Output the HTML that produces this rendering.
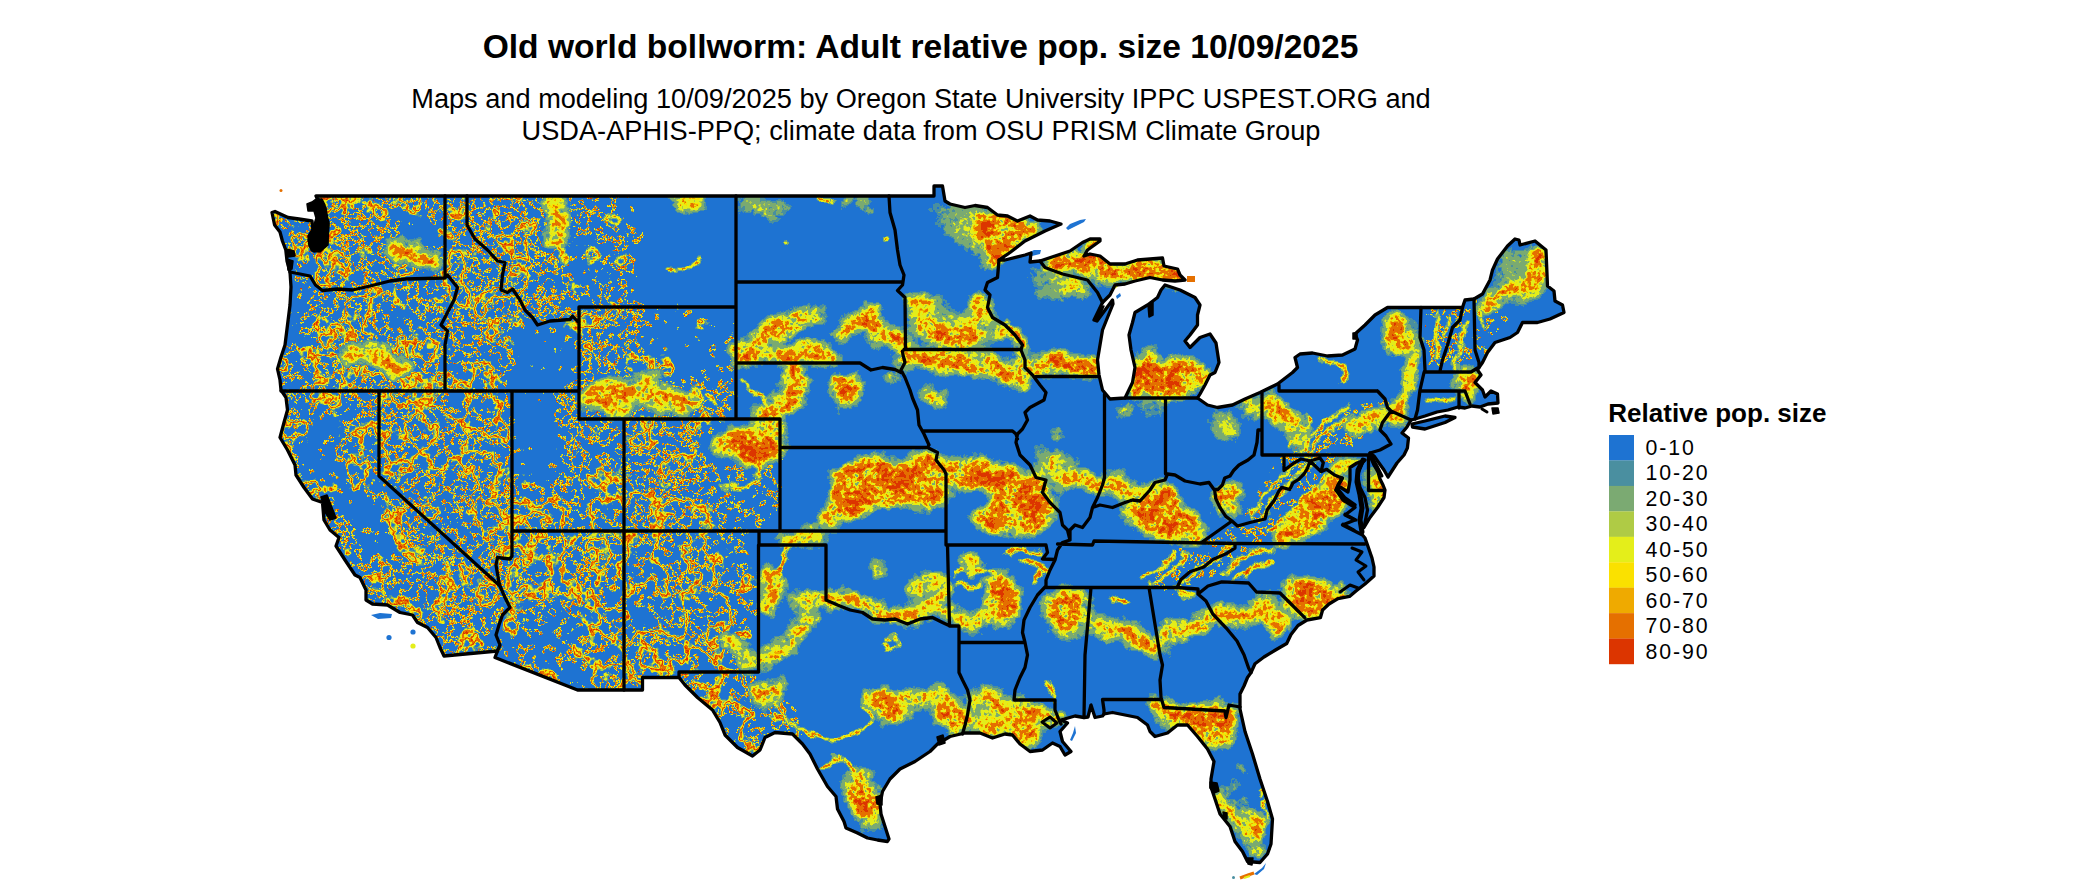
<!DOCTYPE html>
<html><head><meta charset="utf-8"><title>Old world bollworm</title>
<style>
html,body{margin:0;padding:0;background:#fff;}
body{width:2100px;height:892px;overflow:hidden;position:relative;font-family:"Liberation Sans",sans-serif;}
svg{position:absolute;left:0;top:0;}
text{font-family:"Liberation Sans",sans-serif;fill:#000;}
.t1{font-size:33.6px;font-weight:bold;text-anchor:middle;}
.t2{font-size:27.18px;text-anchor:middle;}
.lt{font-size:26px;font-weight:bold;}
.ll{font-size:21.3px;letter-spacing:1.9px;}
</style></head><body>
<svg width="2100" height="892" viewBox="0 0 2100 892">
<defs>
<clipPath id="us"><path d="M316 196 L934 196 L934 186 L942.5 186 L945 201 L950 204 L965 207.5 L975 205.5 L987.5 207.5 L997.5 215 L1007.5 216 L1017.5 221 L1030 216 L1037.5 220 L1050 221 L1061 224 L1045 231 L1025 241 L1010 252.5 L999 260 L1005 260 L1025 255 L1031 253 L1030 262 L1040 261 L1055 256 L1070 251 L1082.5 242.5 L1090 239 L1100 239 L1100 241 L1087.5 250 L1084 256 L1090 254 L1100 256 L1110 264 L1125 264 L1137.5 260 L1162.5 258 L1164 266 L1177.5 269 L1180 275 L1185 280 L1175 281 L1162.5 280 L1150 277.5 L1135 281 L1125 284 L1115 285 L1110 295 L1102.5 302.5 L1094 320 L1097 321 L1112.5 300 L1113 304 L1107.5 317.5 L1102.5 330 L1100 345 L1097.5 360 L1099 375 L1102.5 390 L1110 399 L1125 398 L1132.5 382.5 L1135 367.5 L1131 350 L1129 335 L1132.5 322.5 L1135 312.5 L1147.5 305 L1157.5 297.5 L1161 290 L1165 285 L1180 290 L1195 297.5 L1200 305 L1197.5 315 L1197.5 325 L1190 335 L1185 341 L1190 347.5 L1200 337.5 L1210 334 L1216 343 L1219 362.5 L1215 372.5 L1210 375 L1205 385 L1200 394 L1197.5 398 L1207.5 405 L1217.5 407.5 L1232.5 405 L1245 399 L1260 392.5 L1277.5 384 L1292.5 372.5 L1297.5 367.5 L1295 357.5 L1300 354 L1312.5 353 L1327.5 356 L1342.5 355 L1355 349 L1357.5 340 L1355 334 L1365 325 L1375 315 L1387.5 307.5 L1462.5 307.5 L1465 300 L1474 299 L1482.5 294 L1490 280 L1492.5 270 L1497.5 259 L1507.5 246 L1515 239 L1519 240 L1520 245 L1535 241 L1546 250 L1547.5 286 L1554 291 L1555 301 L1562.5 305 L1564 312.5 L1550 319 L1537.5 322.5 L1522.5 322.5 L1517.5 332.5 L1510 337.5 L1495 342.5 L1487.5 352.5 L1482.5 362.5 L1479 367.5 L1477.5 370 L1481 375 L1475 382.5 L1482.5 390 L1485 397 L1491 391 L1497.5 394 L1498 403 L1488 404 L1480 407 L1472 406 L1465 408 L1458 407 L1448 410 L1437 412 L1425 416 L1415 419 L1411 420 L1407 427 L1402 433 L1408.5 438 L1407.4 448 L1404 455 L1397 463 L1388 477 L1384 470 L1379 463 L1374 456 L1370 453 L1371 458 L1374 465 L1378 472 L1380 479 L1383 485 L1385 490 L1384 497.5 L1377.5 507.5 L1370 517.5 L1364 527.5 L1367.5 510 L1365 497.5 L1360 487.5 L1357.5 475 L1362.5 462.5 L1365 460 L1357 463 L1350 467.5 L1350 480 L1348 492 L1340 487 L1336 490 L1343 500 L1355 507.5 L1345 515 L1355 520 L1342.5 525 L1352.5 530 L1362.5 535 L1365 538 L1367.5 545 L1372 558 L1374 567 L1374 576 L1365 584 L1356 591 L1349.5 596.4 L1338 598.6 L1329 604 L1322.6 610 L1320.4 617.7 L1307 620 L1298 625.5 L1291 634.5 L1286.7 643.5 L1275.5 650 L1264 657 L1255 663.7 L1251 672.6 L1247.5 677.5 L1244 686 L1240 694 L1240 705 L1240 709 L1245 731.5 L1252.5 754 L1260 779 L1267.5 801.5 L1272.5 819 L1271 844 L1267.5 854 L1260 862.5 L1247.5 861.5 L1242.5 851.5 L1235 841.5 L1230 826.5 L1220 814 L1215 799 L1211 787 L1211 779 L1214 761.5 L1207.5 749 L1197.5 736.5 L1187.5 725 L1177.5 725 L1167.5 733 L1155 736.5 L1150 731.5 L1147.5 725 L1137.5 717.5 L1125 715 L1112.5 712.5 L1104 714 L1102.5 716 L1095 717.5 L1091 705 L1088 717 L1084 717.5 L1075 716 L1061 720 L1067.5 723 L1060 731.5 L1062.5 741.5 L1071 751.5 L1065 755 L1060 746.5 L1052.5 743 L1042.5 750 L1030 751.5 L1020 744 L1012.5 735 L1005 734 L992.5 738 L980 733 L965 733 L950 736.5 L937.5 744 L930 751.5 L915 761.5 L900 769 L890 779 L882.5 791.5 L880 804 L881 814 L885 826.5 L889 839 L887.5 841.5 L877.5 840 L867.5 838 L857.5 833 L846 828 L844 821.5 L837.5 809 L836 796.5 L827.5 786.5 L817.5 769 L810 754 L802.5 744 L792.5 734 L775 732.5 L765 737.5 L760 750 L752.5 756 L737.5 747.5 L725 735 L720 722.5 L712.5 710 L697.5 697.5 L685 685 L679 677.5 L642.5 677.5 L642.5 690 L577.5 690 L495 657.5 L497.5 651 L444 656 L440 647.5 L436 637.5 L427.5 627.5 L417.5 622.5 L412.5 615 L400 612.5 L387.5 605 L372.5 604 L366 600 L366 590 L360 577.5 L355 575 L345 560 L336 546 L339 537.5 L330 530 L324 520 L322.5 502.5 L312.5 499 L304 487.5 L296 475 L295 465 L287.5 450 L280 437.5 L284 422.5 L287.5 410 L286 397.5 L281 390 L280 380 L277.5 369 L281 357 L285 345 L287.5 325 L290 305 L291 287 L290 272 L287 261 L285.8 250 L282.4 241 L280 232 L274.6 225 L272 212.5 L275 211.5 L288 217.5 L299 219 L312 221 L313 230 L309 240 L312 250 L320 251 L327 242 L328 225 L325 208 L318 200 L316 196Z M1412 424 L1425 421 L1445 416 L1455 417.5 L1445 422.5 L1425 429 L1412.5 427Z"/></clipPath>

<clipPath id="wclip"><path d="M250 170 L650 170 L650 295 L745 300 L745 415 L790 415 L790 540 L765 540 L765 670 L800 700 L815 745 L760 785 L250 785Z M1425 305 L1500 290 L1510 320 L1480 370 L1425 372Z M1140 592 L1175 548 L1240 520 L1290 440 L1380 395 L1400 412 L1330 470 L1290 520 L1240 562 L1180 596Z"/></clipPath>
<filter id="fw" x="250" y="170" width="1350" height="722" filterUnits="userSpaceOnUse" color-interpolation-filters="sRGB">
<feTurbulence type="fractalNoise" baseFrequency="0.11" numOctaves="5" seed="7" result="n"/>
<feColorMatrix type="matrix" values="1 0 0 0 0 1 0 0 0 0 1 0 0 0 0 0 0 0 0 1" in="n" result="n1"/>
<feTurbulence type="fractalNoise" baseFrequency="0.02" numOctaves="2" seed="21" result="m"/>
<feColorMatrix type="matrix" values="1 0 0 0 0 1 0 0 0 0 1 0 0 0 0 0 0 0 0 1" in="m" result="m1"/>
<feComposite in="n1" in2="m1" operator="arithmetic" k1="0" k2="1.3" k3="0.45" k4="-0.375" result="nn"/>
<feGaussianBlur in="SourceGraphic" stdDeviation="6" result="bl"/>
<feComposite in="bl" in2="nn" operator="arithmetic" k1="0" k2="1" k3="1" k4="-0.5" result="v"/>
<feColorMatrix in="v" type="matrix" values="1 0 0 0 0 1 0 0 0 0 1 0 0 0 0 1 0 0 0 0" result="va"/>
<feComponentTransfer in="va"><feFuncR type="discrete" tableValues="0.118 0.118 0.118 0.118 0.118 0.118 0.118 0.118 0.118 0.118 0.118 0.118 0.118 0.118 0.118 0.118 0.118 0.118 0.118 0.118 0.118 0.118 0.118 0.118 0.118 0.118 0.118 0.118 0.118 0.118 0.118 0.118 0.118 0.118 0.118 0.118 0.118 0.118 0.118 0.118 0.118 0.118 0.118 0.118 0.118 0.118 0.118 0.118 0.118 0.118 0.118 0.118 0.118 0.118 0.118 0.118 0.118 0.118 0.118 0.118 0.118 0.118 0.118 0.118 0.118 0.118 0.118 0.118 0.118 0.118 0.118 0.118 0.118 0.118 0.118 0.118 0.118 0.118 0.118 0.118 0.118 0.118 0.118 0.118 0.29 0.482 0.482 0.686 0.894 0.894 0.894 0.894 0.98 0.937 0.937 0.898 0.898 0.898 0.898 0.863 0.863 0.898 0.898 0.898 0.898 0.937 0.937 0.98 0.894 0.894 0.894 0.894 0.686 0.482 0.482 0.29 0.118 0.118 0.118 0.118 0.118 0.118 0.118 0.118 0.118 0.118 0.118 0.118 0.118 0.118 0.118 0.118 0.118 0.118 0.118 0.118 0.118 0.118 0.118 0.118 0.118 0.118 0.118 0.118 0.118 0.118 0.118 0.118 0.118 0.118 0.118 0.118 0.118 0.118 0.118 0.118 0.118 0.118 0.118 0.118 0.118 0.118 0.118 0.118 0.118 0.118 0.118 0.118 0.118 0.118 0.118 0.118 0.118 0.118 0.118 0.118 0.118 0.118 0.118 0.118 0.118 0.118 0.118 0.118 0.118 0.118 0.118 0.118 0.118 0.118 0.118 0.118 0.118 0.118 0.118 0.118 0.118 0.118 0.118 0.118"/><feFuncG type="discrete" tableValues="0.451 0.451 0.451 0.451 0.451 0.451 0.451 0.451 0.451 0.451 0.451 0.451 0.451 0.451 0.451 0.451 0.451 0.451 0.451 0.451 0.451 0.451 0.451 0.451 0.451 0.451 0.451 0.451 0.451 0.451 0.451 0.451 0.451 0.451 0.451 0.451 0.451 0.451 0.451 0.451 0.451 0.451 0.451 0.451 0.451 0.451 0.451 0.451 0.451 0.451 0.451 0.451 0.451 0.451 0.451 0.451 0.451 0.451 0.451 0.451 0.451 0.451 0.451 0.451 0.451 0.451 0.451 0.451 0.451 0.451 0.451 0.451 0.451 0.451 0.451 0.451 0.451 0.451 0.451 0.451 0.451 0.451 0.451 0.451 0.561 0.667 0.667 0.796 0.933 0.933 0.933 0.933 0.882 0.667 0.667 0.439 0.439 0.439 0.439 0.208 0.208 0.439 0.439 0.439 0.439 0.667 0.667 0.882 0.933 0.933 0.933 0.933 0.796 0.667 0.667 0.561 0.451 0.451 0.451 0.451 0.451 0.451 0.451 0.451 0.451 0.451 0.451 0.451 0.451 0.451 0.451 0.451 0.451 0.451 0.451 0.451 0.451 0.451 0.451 0.451 0.451 0.451 0.451 0.451 0.451 0.451 0.451 0.451 0.451 0.451 0.451 0.451 0.451 0.451 0.451 0.451 0.451 0.451 0.451 0.451 0.451 0.451 0.451 0.451 0.451 0.451 0.451 0.451 0.451 0.451 0.451 0.451 0.451 0.451 0.451 0.451 0.451 0.451 0.451 0.451 0.451 0.451 0.451 0.451 0.451 0.451 0.451 0.451 0.451 0.451 0.451 0.451 0.451 0.451 0.451 0.451 0.451 0.451 0.451 0.451"/><feFuncB type="discrete" tableValues="0.824 0.824 0.824 0.824 0.824 0.824 0.824 0.824 0.824 0.824 0.824 0.824 0.824 0.824 0.824 0.824 0.824 0.824 0.824 0.824 0.824 0.824 0.824 0.824 0.824 0.824 0.824 0.824 0.824 0.824 0.824 0.824 0.824 0.824 0.824 0.824 0.824 0.824 0.824 0.824 0.824 0.824 0.824 0.824 0.824 0.824 0.824 0.824 0.824 0.824 0.824 0.824 0.824 0.824 0.824 0.824 0.824 0.824 0.824 0.824 0.824 0.824 0.824 0.824 0.824 0.824 0.824 0.824 0.824 0.824 0.824 0.824 0.824 0.824 0.824 0.824 0.824 0.824 0.824 0.824 0.824 0.824 0.824 0.824 0.627 0.447 0.447 0.271 0.102 0.102 0.102 0.102 0 0 0 0 0 0 0 0 0 0 0 0 0 0 0 0 0.102 0.102 0.102 0.102 0.271 0.447 0.447 0.627 0.824 0.824 0.824 0.824 0.824 0.824 0.824 0.824 0.824 0.824 0.824 0.824 0.824 0.824 0.824 0.824 0.824 0.824 0.824 0.824 0.824 0.824 0.824 0.824 0.824 0.824 0.824 0.824 0.824 0.824 0.824 0.824 0.824 0.824 0.824 0.824 0.824 0.824 0.824 0.824 0.824 0.824 0.824 0.824 0.824 0.824 0.824 0.824 0.824 0.824 0.824 0.824 0.824 0.824 0.824 0.824 0.824 0.824 0.824 0.824 0.824 0.824 0.824 0.824 0.824 0.824 0.824 0.824 0.824 0.824 0.824 0.824 0.824 0.824 0.824 0.824 0.824 0.824 0.824 0.824 0.824 0.824 0.824 0.824"/><feFuncA type="discrete" tableValues="0 0 0 0 0 0 0 0 0 0 0 0 0 0 0 0 0 0 0 0 0 0 0 0 0 0 0 0 0 0 0 0 0 0 0 0 0 0 0 0 0 0 0 0 0 0 0 0 0 0 0 0 0 0 0 0 0 0 0 0 0 0 0 0 0 0 0 0 0 0 0 0 0 0 0 0 0 0 0 0 0 0 0 0 1 1 1 1 1 1 1 1 1 1 1 1 1 1 1 1 1 1 1 1 1 1 1 1 1 1 1 1 1 1 1 1 0 0 0 0 0 0 0 0 0 0 0 0 0 0 0 0 0 0 0 0 0 0 0 0 0 0 0 0 0 0 0 0 0 0 0 0 0 0 0 0 0 0 0 0 0 0 0 0 0 0 0 0 0 0 0 0 0 0 0 0 0 0 0 0 0 0 0 0 0 0 0 0 0 0 0 0 0 0 0 0 0 0 0 0"/></feComponentTransfer>
</filter>
<filter id="fw2" x="250" y="170" width="1350" height="722" filterUnits="userSpaceOnUse" color-interpolation-filters="sRGB">
<feTurbulence type="fractalNoise" baseFrequency="0.032" numOctaves="4" seed="33" result="n"/>
<feColorMatrix type="matrix" values="1 0 0 0 0 1 0 0 0 0 1 0 0 0 0 0 0 0 0 1" in="n" result="n1"/>
<feGaussianBlur in="SourceGraphic" stdDeviation="6" result="bl"/>
<feComposite in="bl" in2="n1" operator="arithmetic" k1="0" k2="1" k3="1.2" k4="-0.600" result="v"/>
<feColorMatrix in="v" type="matrix" values="1 0 0 0 0 1 0 0 0 0 1 0 0 0 0 1 0 0 0 0" result="va"/>
<feComponentTransfer in="va"><feFuncR type="discrete" tableValues="0.118 0.118 0.118 0.118 0.118 0.118 0.118 0.118 0.118 0.118 0.118 0.118 0.118 0.118 0.118 0.118 0.118 0.118 0.118 0.118 0.118 0.118 0.118 0.118 0.118 0.118 0.118 0.118 0.118 0.118 0.118 0.118 0.118 0.118 0.118 0.118 0.118 0.118 0.118 0.118 0.118 0.118 0.118 0.118 0.118 0.118 0.118 0.118 0.118 0.118 0.118 0.118 0.118 0.118 0.118 0.118 0.118 0.118 0.118 0.118 0.118 0.118 0.118 0.118 0.118 0.118 0.118 0.118 0.118 0.118 0.118 0.118 0.118 0.118 0.118 0.118 0.118 0.118 0.118 0.118 0.118 0.118 0.118 0.118 0.118 0.118 0.29 0.29 0.482 0.482 0.686 0.894 0.894 0.894 0.98 0.937 0.898 0.898 0.898 0.863 0.863 0.898 0.898 0.898 0.937 0.98 0.894 0.894 0.894 0.686 0.482 0.482 0.29 0.29 0.118 0.118 0.118 0.118 0.118 0.118 0.118 0.118 0.118 0.118 0.118 0.118 0.118 0.118 0.118 0.118 0.118 0.118 0.118 0.118 0.118 0.118 0.118 0.118 0.118 0.118 0.118 0.118 0.118 0.118 0.118 0.118 0.118 0.118 0.118 0.118 0.118 0.118 0.118 0.118 0.118 0.118 0.118 0.118 0.118 0.118 0.118 0.118 0.118 0.118 0.118 0.118 0.118 0.118 0.118 0.118 0.118 0.118 0.118 0.118 0.118 0.118 0.118 0.118 0.118 0.118 0.118 0.118 0.118 0.118 0.118 0.118 0.118 0.118 0.118 0.118 0.118 0.118 0.118 0.118 0.118 0.118 0.118 0.118 0.118 0.118"/><feFuncG type="discrete" tableValues="0.451 0.451 0.451 0.451 0.451 0.451 0.451 0.451 0.451 0.451 0.451 0.451 0.451 0.451 0.451 0.451 0.451 0.451 0.451 0.451 0.451 0.451 0.451 0.451 0.451 0.451 0.451 0.451 0.451 0.451 0.451 0.451 0.451 0.451 0.451 0.451 0.451 0.451 0.451 0.451 0.451 0.451 0.451 0.451 0.451 0.451 0.451 0.451 0.451 0.451 0.451 0.451 0.451 0.451 0.451 0.451 0.451 0.451 0.451 0.451 0.451 0.451 0.451 0.451 0.451 0.451 0.451 0.451 0.451 0.451 0.451 0.451 0.451 0.451 0.451 0.451 0.451 0.451 0.451 0.451 0.451 0.451 0.451 0.451 0.451 0.451 0.561 0.561 0.667 0.667 0.796 0.933 0.933 0.933 0.882 0.667 0.439 0.439 0.439 0.208 0.208 0.439 0.439 0.439 0.667 0.882 0.933 0.933 0.933 0.796 0.667 0.667 0.561 0.561 0.451 0.451 0.451 0.451 0.451 0.451 0.451 0.451 0.451 0.451 0.451 0.451 0.451 0.451 0.451 0.451 0.451 0.451 0.451 0.451 0.451 0.451 0.451 0.451 0.451 0.451 0.451 0.451 0.451 0.451 0.451 0.451 0.451 0.451 0.451 0.451 0.451 0.451 0.451 0.451 0.451 0.451 0.451 0.451 0.451 0.451 0.451 0.451 0.451 0.451 0.451 0.451 0.451 0.451 0.451 0.451 0.451 0.451 0.451 0.451 0.451 0.451 0.451 0.451 0.451 0.451 0.451 0.451 0.451 0.451 0.451 0.451 0.451 0.451 0.451 0.451 0.451 0.451 0.451 0.451 0.451 0.451 0.451 0.451 0.451 0.451"/><feFuncB type="discrete" tableValues="0.824 0.824 0.824 0.824 0.824 0.824 0.824 0.824 0.824 0.824 0.824 0.824 0.824 0.824 0.824 0.824 0.824 0.824 0.824 0.824 0.824 0.824 0.824 0.824 0.824 0.824 0.824 0.824 0.824 0.824 0.824 0.824 0.824 0.824 0.824 0.824 0.824 0.824 0.824 0.824 0.824 0.824 0.824 0.824 0.824 0.824 0.824 0.824 0.824 0.824 0.824 0.824 0.824 0.824 0.824 0.824 0.824 0.824 0.824 0.824 0.824 0.824 0.824 0.824 0.824 0.824 0.824 0.824 0.824 0.824 0.824 0.824 0.824 0.824 0.824 0.824 0.824 0.824 0.824 0.824 0.824 0.824 0.824 0.824 0.824 0.824 0.627 0.627 0.447 0.447 0.271 0.102 0.102 0.102 0 0 0 0 0 0 0 0 0 0 0 0 0.102 0.102 0.102 0.271 0.447 0.447 0.627 0.627 0.824 0.824 0.824 0.824 0.824 0.824 0.824 0.824 0.824 0.824 0.824 0.824 0.824 0.824 0.824 0.824 0.824 0.824 0.824 0.824 0.824 0.824 0.824 0.824 0.824 0.824 0.824 0.824 0.824 0.824 0.824 0.824 0.824 0.824 0.824 0.824 0.824 0.824 0.824 0.824 0.824 0.824 0.824 0.824 0.824 0.824 0.824 0.824 0.824 0.824 0.824 0.824 0.824 0.824 0.824 0.824 0.824 0.824 0.824 0.824 0.824 0.824 0.824 0.824 0.824 0.824 0.824 0.824 0.824 0.824 0.824 0.824 0.824 0.824 0.824 0.824 0.824 0.824 0.824 0.824 0.824 0.824 0.824 0.824 0.824 0.824"/><feFuncA type="discrete" tableValues="0 0 0 0 0 0 0 0 0 0 0 0 0 0 0 0 0 0 0 0 0 0 0 0 0 0 0 0 0 0 0 0 0 0 0 0 0 0 0 0 0 0 0 0 0 0 0 0 0 0 0 0 0 0 0 0 0 0 0 0 0 0 0 0 0 0 0 0 0 0 0 0 0 0 0 0 0 0 0 0 0 0 0 0 0 0 1 1 1 1 1 1 1 1 1 1 1 1 1 1 1 1 1 1 1 1 1 1 1 1 1 1 1 1 0 0 0 0 0 0 0 0 0 0 0 0 0 0 0 0 0 0 0 0 0 0 0 0 0 0 0 0 0 0 0 0 0 0 0 0 0 0 0 0 0 0 0 0 0 0 0 0 0 0 0 0 0 0 0 0 0 0 0 0 0 0 0 0 0 0 0 0 0 0 0 0 0 0 0 0 0 0 0 0 0 0 0 0 0 0"/></feComponentTransfer>
</filter>
<filter id="bh" x="250" y="170" width="1350" height="722" filterUnits="userSpaceOnUse" color-interpolation-filters="sRGB"><feGaussianBlur stdDeviation="5.5"/></filter>
<filter id="bc" x="250" y="170" width="1350" height="722" filterUnits="userSpaceOnUse" color-interpolation-filters="sRGB"><feGaussianBlur stdDeviation="3.5"/></filter>
<filter id="bt" x="250" y="170" width="1350" height="722" filterUnits="userSpaceOnUse" color-interpolation-filters="sRGB"><feGaussianBlur stdDeviation="1.3"/></filter>
<filter id="fe" x="250" y="170" width="1350" height="722" filterUnits="userSpaceOnUse" color-interpolation-filters="sRGB">
<feTurbulence type="fractalNoise" baseFrequency="0.045" numOctaves="3" seed="11" result="n"/>
<feColorMatrix type="matrix" values="1 0 0 0 0 0 1 0 0 0 0 0 1 0 0 0 0 0 0 1" in="n" result="n1"/>
<feDisplacementMap in="SourceGraphic" in2="n1" scale="18" xChannelSelector="R" yChannelSelector="G" result="d"/>
<feTurbulence type="fractalNoise" baseFrequency="0.22" numOctaves="2" seed="5" result="m"/>
<feColorMatrix type="matrix" values="1 0 0 0 0 1 0 0 0 0 1 0 0 0 0 0 0 0 0 1" in="m" result="m1"/>
<feColorMatrix type="matrix" values="0 0 1 0 0 0 0 1 0 0 0 0 1 0 0 0 0 0 0 1" in="n1" result="n2"/>
<feComposite in="n2" in2="m1" operator="arithmetic" k1="0" k2="1.1" k3="1.4" k4="-0.750" result="nn"/>
<feComposite in="d" in2="nn" operator="arithmetic" k1="1.3" k2="0.35" k3="0" k4="0" result="v"/>
<feColorMatrix in="v" type="matrix" values="1 0 0 0 0 1 0 0 0 0 1 0 0 0 0 1 0 0 0 0" result="va"/>
<feComponentTransfer in="va"><feFuncR type="discrete" tableValues="0.118 0.118 0.118 0.118 0.118 0.118 0.118 0.118 0.29 0.29 0.29 0.29 0.29 0.29 0.482 0.482 0.482 0.482 0.482 0.482 0.482 0.482 0.482 0.482 0.482 0.482 0.482 0.482 0.482 0.482 0.686 0.686 0.686 0.686 0.894 0.894 0.894 0.894 0.894 0.894 0.894 0.894 0.894 0.894 0.894 0.894 0.894 0.894 0.894 0.894 0.894 0.894 0.98 0.98 0.98 0.98 0.98 0.98 0.937 0.937 0.937 0.937 0.937 0.937 0.898 0.898 0.898 0.898 0.898 0.898 0.898 0.898 0.898 0.898 0.898 0.898 0.898 0.898 0.898 0.898 0.898 0.898 0.898 0.898 0.898 0.898 0.898 0.898 0.898 0.898 0.898 0.898 0.898 0.898 0.898 0.863 0.863 0.863 0.863 0.863"/><feFuncG type="discrete" tableValues="0.451 0.451 0.451 0.451 0.451 0.451 0.451 0.451 0.561 0.561 0.561 0.561 0.561 0.561 0.667 0.667 0.667 0.667 0.667 0.667 0.667 0.667 0.667 0.667 0.667 0.667 0.667 0.667 0.667 0.667 0.796 0.796 0.796 0.796 0.933 0.933 0.933 0.933 0.933 0.933 0.933 0.933 0.933 0.933 0.933 0.933 0.933 0.933 0.933 0.933 0.933 0.933 0.882 0.882 0.882 0.882 0.882 0.882 0.667 0.667 0.667 0.667 0.667 0.667 0.439 0.439 0.439 0.439 0.439 0.439 0.439 0.439 0.439 0.439 0.439 0.439 0.439 0.439 0.439 0.439 0.439 0.439 0.439 0.439 0.439 0.439 0.439 0.439 0.439 0.439 0.439 0.439 0.439 0.439 0.439 0.208 0.208 0.208 0.208 0.208"/><feFuncB type="discrete" tableValues="0.824 0.824 0.824 0.824 0.824 0.824 0.824 0.824 0.627 0.627 0.627 0.627 0.627 0.627 0.447 0.447 0.447 0.447 0.447 0.447 0.447 0.447 0.447 0.447 0.447 0.447 0.447 0.447 0.447 0.447 0.271 0.271 0.271 0.271 0.102 0.102 0.102 0.102 0.102 0.102 0.102 0.102 0.102 0.102 0.102 0.102 0.102 0.102 0.102 0.102 0.102 0.102 0 0 0 0 0 0 0 0 0 0 0 0 0 0 0 0 0 0 0 0 0 0 0 0 0 0 0 0 0 0 0 0 0 0 0 0 0 0 0 0 0 0 0 0 0 0 0 0"/><feFuncA type="discrete" tableValues="0 0 0 0 0 0 0 0 1 1 1 1 1 1 1 1 1 1 1 1 1 1 1 1 1 1 1 1 1 1 1 1 1 1 1 1 1 1 1 1 1 1 1 1 1 1 1 1 1 1 1 1 1 1 1 1 1 1 1 1 1 1 1 1 1 1 1 1 1 1 1 1 1 1 1 1 1 1 1 1 1 1 1 1 1 1 1 1 1 1 1 1 1 1 1 1 1 1 1 1"/></feComponentTransfer>
</filter>

</defs>
<text x="920.5" y="57.5" class="t1">Old world bollworm: Adult relative pop. size 10/09/2025</text>
<text x="921" y="108" class="t2">Maps and modeling 10/09/2025 by Oregon State University IPPC USPEST.ORG and</text>
<text x="921" y="140" class="t2">USDA-APHIS-PPQ; climate data from OSU PRISM Climate Group</text>
<g fill="#1E73D2">
<path d="M1066 228 L1070 224 L1080 220 L1086 219 L1084 222 L1074 227 L1068 230Z"/>
<path d="M1028 253 L1034 250 L1041 250 L1040 254 L1032 256Z"/>
<path d="M371 615 L380 613 L392 614 L391 618 L378 619Z"/>
<circle cx="389" cy="637.5" r="2.6"/><circle cx="413" cy="632" r="2.6"/>
<path d="M1075 726 L1076 733 L1072 741 L1070 740 L1073 733 Z"/>
<path d="M1254 874 L1262 868 L1266 863 L1264 869 L1257 875Z"/>
<path d="M1116 296 L1120 293 L1121 296 L1117 299Z"/>
</g>
<path d="M1364 527.5 L1367.5 510 L1365 497.5 L1360 487.5 L1357.5 475 L1362.5 462.5 L1365 460 L1357 463 L1350 467.5 L1350 480 L1348 492 L1340 487 L1336 490 L1343 500 L1355 507.5 L1345 515 L1355 520 L1342.5 525 L1352.5 530 L1362.5 535Z" fill="#1E73D2"/>
<circle cx="413" cy="646" r="2.6" fill="#E4EE1A"/>
<path d="M1240 878 L1248 875 L1254 873" stroke="#E57000" stroke-width="3" fill="none"/>
<path d="M1244 878 L1250 876" stroke="#E4EE1A" stroke-width="2" fill="none"/>
<circle cx="1233.5" cy="877.5" r="1.5" fill="#4A8FA0"/>
<path d="M1187 276 L1195 276 L1195 282 L1187 282Z" fill="#E57000"/>
<path d="M1114 288 L1119 284" stroke="#E4EE1A" stroke-width="2.5" fill="none"/>
<circle cx="281" cy="190.5" r="1.5" fill="#E57000"/>
<g clip-path="url(#us)">
<rect x="250" y="170" width="1350" height="722" fill="#1E73D2"/>

<g clip-path="url(#wclip)"><g filter="url(#fw)"><rect x="250" y="170" width="1350" height="722" fill="#000"/>
<path d="M250 180 L545 180 L548 235 L575 290 L620 300 L650 305 L665 312 L668 372 L735 380 L735 420 L705 425 L700 470 L712 500 L720 531 L757 540 L757 600 L745 672 L790 700 L805 740 L760 775 L250 775Z" fill="rgb(98,98,98)"/>
<path d="M545 190 L640 190 L640 300 L575 292 L548 235Z" fill="rgb(84,84,84)"/>
<path d="M668 308 L736 308 L736 382 L668 374Z" fill="rgb(79,79,79)"/>
<path d="M705 462 L780 462 L780 531 L720 531 L712 500Z" fill="rgb(79,79,79)"/>
<path d="M1425 305 L1500 290 L1510 320 L1480 370 L1425 372Z" fill="rgb(92,92,92)"/>
<path d="M1140 592 L1175 548 L1240 520 L1290 440 L1380 395 L1400 412 L1330 470 L1290 520 L1240 562 L1180 596Z" fill="rgb(92,92,92)"/>
<path d="M325 200 L395 200 L395 245 L380 280 L330 285Z" fill="rgb(128,128,128)"/>
<path d="M448 197 L546 197 L550 250 L575 292 L540 322 L500 300 L448 280Z" fill="rgb(128,128,128)"/>
<path d="M448 285 L500 300 L530 325 L525 355 L480 372 L448 372Z" fill="rgb(128,128,128)"/>
<path d="M345 338 L405 338 L405 378 L345 378Z" fill="rgb(128,128,128)"/>
<path d="M579 311 L635 311 L635 382 L579 382Z" fill="rgb(128,128,128)"/>
<path d="M385 525 L420 515 L499 585 L497 625 L440 625 L400 590Z" fill="rgb(128,128,128)"/>
<path d="M436 477 L510 477 L510 560 L470 560Z" fill="rgb(128,128,128)"/>
<path d="M625 422 L700 422 L714 531 L625 531Z" fill="rgb(128,128,128)"/>
<path d="M405 400 L437 400 L437 430 L405 430Z" fill="rgb(128,128,128)"/>
<path d="M590 380 L730 385 L730 418 L590 418Z" fill="rgb(122,122,122)"/>
<path d="M270 205 L312 214 L308 272 L285 272Z" fill="rgb(76,76,76)"/>
<path d="M280 281 L317 281 L317 388 L280 388Z" fill="rgb(76,76,76)"/>
<path d="M499 606 L603 606 L603 690 L540 675 L499 655Z" fill="rgb(76,76,76)"/>
<path d="M632 580 L657 580 L657 632 L632 632Z" fill="rgb(76,76,76)"/>
<path d="M725 536 L756 536 L756 565 L725 565Z" fill="rgb(76,76,76)"/>
<path d="M322 425 L312 445 L330 480 L365 520 L392 552" fill="none" stroke="rgb(31,31,31)" stroke-width="24" stroke-linecap="round" stroke-linejoin="round"/>
<path d="M515 325 L563 325 L578 335 L578 362 L563 388 L515 388Z" fill="rgb(31,31,31)"/>
<path d="M462 372 L500 378" fill="none" stroke="rgb(51,51,51)" stroke-width="14" stroke-linecap="round" stroke-linejoin="round"/>
<path d="M403 220 L445 220 L445 247 L403 247Z" fill="rgb(38,38,38)"/>
<path d="M400 262 L445 262 L445 278 L405 278Z" fill="rgb(38,38,38)"/>
<path d="M516 395 L560 395 L562 450 L552 488 L520 488Z" fill="rgb(31,31,31)"/>
<path d="M536 621 L566 621 L566 642 L536 642Z" fill="rgb(38,38,38)"/>
<path d="M640 318 L735 318 L735 365 L680 372 L640 352Z" fill="rgb(38,38,38)"/>
</g></g>
<g clip-path="url(#wclip)"><g filter="url(#fw2)"><rect x="250" y="170" width="1350" height="722" fill="#000"/>
<path d="M250 180 L545 180 L548 235 L575 290 L620 300 L650 305 L665 312 L668 372 L735 380 L735 420 L705 425 L700 470 L712 500 L720 531 L757 540 L757 600 L745 672 L790 700 L805 740 L760 775 L250 775Z" fill="rgb(89,89,89)"/>
<path d="M500 500 L625 500 L705 470 L720 531 L757 540 L757 672 L790 700 L800 740 L760 770 L680 680 L577 690 L500 650Z" fill="rgb(128,128,128)"/>
<path d="M340 330 L445 330 L445 390 L340 390Z" fill="rgb(128,128,128)"/>
<path d="M380 395 L510 395 L510 480 L380 480Z" fill="rgb(128,128,128)"/>
<path d="M322 425 L312 445 L330 480 L365 520 L392 552" fill="none" stroke="rgb(31,31,31)" stroke-width="24" stroke-linecap="round" stroke-linejoin="round"/>
<path d="M515 325 L563 325 L578 335 L578 362 L563 388 L515 388Z" fill="rgb(31,31,31)"/>
<path d="M516 395 L560 395 L562 450 L552 488 L520 488Z" fill="rgb(31,31,31)"/>
<path d="M403 220 L445 220 L445 247 L403 247Z" fill="rgb(38,38,38)"/>
<path d="M640 318 L735 318 L735 365 L680 372 L640 352Z" fill="rgb(38,38,38)"/>
<path d="M505 612 L540 605 L578 625 L598 660 L590 688 L540 672 L505 655Z" fill="rgb(71,71,71)"/>
<path d="M632 578 L658 578 L658 634 L632 634Z" fill="rgb(64,64,64)"/>
<path d="M725 536 L756 536 L756 566 L725 566Z" fill="rgb(64,64,64)"/>
<path d="M732 595 L756 595 L756 634 L732 634Z" fill="rgb(64,64,64)"/>
<path d="M522 447 L558 447 L558 488 L522 488Z" fill="rgb(64,64,64)"/>
</g></g>
<g filter="url(#fe)"><rect x="250" y="170" width="1350" height="722" fill="#000"/>
<g style="mix-blend-mode:lighten"><g filter="url(#bh)">
<path d="M930 205 L965 203 L985 210 L1000 225 L990 262 L975 262 L958 240 L940 225Z" fill="rgb(66,66,66)"/>
<path d="M1022 268 L1045 270 L1065 277 L1085 283 L1092 298 L1075 303 L1055 295 L1040 290Z" fill="rgb(66,66,66)"/>
<path d="M908 300 L925 296 L945 310 L960 318 L985 300 L995 318 L1010 335 L990 345 L950 345 L910 335Z" fill="rgb(79,79,79)"/>
<path d="M1038 450 L1062 448 L1075 462 L1070 478 L1045 480 L1035 468Z" fill="rgb(71,71,71)"/>
<path d="M972 695 L1000 690 L1025 702 L1035 730 L1020 745 L995 738 L975 728Z" fill="rgb(87,87,87)"/>
<path d="M1217 417 L1228 412 L1236 421 L1234 433 L1222 436 L1215 428Z" fill="rgb(98,98,98)"/>
<path d="M745 203 L765 207 L782 212" fill="none" stroke="rgb(104,104,104)" stroke-width="12" stroke-linecap="round" stroke-linejoin="round"/>
<path d="M1500 250 L1525 248 L1522 270 L1500 285 L1492 270Z" fill="rgb(63,63,63)"/>
<path d="M852 808 L880 808 L883 828 L860 824Z" fill="rgb(95,95,95)"/>
<path d="M1145 408 L1153 410" fill="none" stroke="rgb(79,79,79)" stroke-width="9" stroke-linecap="round" stroke-linejoin="round"/>
<path d="M395 250 L412 254 L432 259" fill="none" stroke="rgb(64,64,64)" stroke-width="20" stroke-linecap="round" stroke-linejoin="round"/>
<path d="M352 355 L372 352 L388 362 L402 370" fill="none" stroke="rgb(64,64,64)" stroke-width="17" stroke-linecap="round" stroke-linejoin="round"/>
<path d="M592 400 L610 393 L640 391 L665 398 L680 402" fill="none" stroke="rgb(64,64,64)" stroke-width="24" stroke-linecap="round" stroke-linejoin="round"/>
<path d="M640 385 L650 378" fill="none" stroke="rgb(64,64,64)" stroke-width="15" stroke-linecap="round" stroke-linejoin="round"/>
<path d="M610 405 L625 410" fill="none" stroke="rgb(64,64,64)" stroke-width="15" stroke-linecap="round" stroke-linejoin="round"/>
<path d="M556 201 L558 220 L556 240" fill="none" stroke="rgb(64,64,64)" stroke-width="18" stroke-linecap="round" stroke-linejoin="round"/>
<path d="M677 200 L697 201" fill="none" stroke="rgb(64,64,64)" stroke-width="14" stroke-linecap="round" stroke-linejoin="round"/>
<path d="M716 442 L735 433 L760 425 L778 422 L778 448 L766 462 L748 462 L735 452 L722 456Z" fill="rgb(64,64,64)" stroke="rgb(64,64,64)" stroke-width="9" stroke-linejoin="round"/>
<path d="M740 352 L760 340 L785 325 L812 313" fill="none" stroke="rgb(64,64,64)" stroke-width="19" stroke-linecap="round" stroke-linejoin="round"/>
<path d="M740 358 L770 357 L800 353 L830 357" fill="none" stroke="rgb(64,64,64)" stroke-width="17" stroke-linecap="round" stroke-linejoin="round"/>
<path d="M843 330 L868 316 L882 335 L902 345" fill="none" stroke="rgb(64,64,64)" stroke-width="19" stroke-linecap="round" stroke-linejoin="round"/>
<path d="M975 215 L988 211 L1005 216 L1025 222 L1035 226 L1020 238 L1005 250 L996 262 L987 262 L986 245 L977 230Z" fill="rgb(64,64,64)" stroke="rgb(64,64,64)" stroke-width="9" stroke-linejoin="round"/>
<path d="M912 305 L920 300 L928 310 L925 322 L940 330" fill="none" stroke="rgb(64,64,64)" stroke-width="14" stroke-linecap="round" stroke-linejoin="round"/>
<path d="M925 324 L940 334 L955 339 L972 336" fill="none" stroke="rgb(64,64,64)" stroke-width="23" stroke-linecap="round" stroke-linejoin="round"/>
<path d="M962 330 L975 315 L983 303" fill="none" stroke="rgb(64,64,64)" stroke-width="16" stroke-linecap="round" stroke-linejoin="round"/>
<path d="M910 358 L940 360 L965 362 L990 368 L1020 375" fill="none" stroke="rgb(64,64,64)" stroke-width="22" stroke-linecap="round" stroke-linejoin="round"/>
<path d="M995 330 L1010 335 L1020 342" fill="none" stroke="rgb(64,64,64)" stroke-width="14" stroke-linecap="round" stroke-linejoin="round"/>
<path d="M793 370 L797 385 L792 400 L775 410 L765 415" fill="none" stroke="rgb(64,64,64)" stroke-width="20" stroke-linecap="round" stroke-linejoin="round"/>
<path d="M838 380 L852 378 L858 392 L852 405 L840 406 L834 394Z" fill="rgb(64,64,64)" stroke="rgb(64,64,64)" stroke-width="9" stroke-linejoin="round"/>
<path d="M930 395 L934 398" fill="none" stroke="rgb(64,64,64)" stroke-width="17" stroke-linecap="round" stroke-linejoin="round"/>
<path d="M892 378 L892.5 378" fill="none" stroke="rgb(64,64,64)" stroke-width="14" stroke-linecap="round" stroke-linejoin="round"/>
<path d="M842 470 L860 462 L890 462 L920 460 L945 462 L945 500 L925 505 L900 500 L880 503 L860 510 L845 515 L835 520 L825 525 L822 518 L835 505 L840 490Z" fill="rgb(64,64,64)" stroke="rgb(64,64,64)" stroke-width="9" stroke-linejoin="round"/>
<path d="M948 462 L975 460 L1000 470 L1020 475 L1040 480 L1050 495 L1048 520 L1030 530 L1005 532 L985 525 L975 515 L990 510 L998 498 L985 485 L965 485 L950 480Z" fill="rgb(64,64,64)" stroke="rgb(64,64,64)" stroke-width="9" stroke-linejoin="round"/>
<path d="M1050 460 L1054 464" fill="none" stroke="rgb(64,64,64)" stroke-width="19" stroke-linecap="round" stroke-linejoin="round"/>
<path d="M1065 478 L1080 482 L1100 482" fill="none" stroke="rgb(64,64,64)" stroke-width="18" stroke-linecap="round" stroke-linejoin="round"/>
<path d="M1108 480 L1120 490 L1135 498 L1150 492" fill="none" stroke="rgb(64,64,64)" stroke-width="18" stroke-linecap="round" stroke-linejoin="round"/>
<path d="M1130 510 L1145 500 L1160 492 L1175 495 L1180 510 L1195 520 L1200 535 L1185 540 L1165 535 L1150 530 L1135 522Z" fill="rgb(64,64,64)" stroke="rgb(64,64,64)" stroke-width="9" stroke-linejoin="round"/>
<path d="M1220 488 L1232 486 L1240 497 L1234 508 L1222 507 L1216 497Z" fill="rgb(64,64,64)" stroke="rgb(64,64,64)" stroke-width="9" stroke-linejoin="round"/>
<path d="M1055 263 L1075 258 L1090 262 L1110 272 L1135 272 L1160 270 L1180 276" fill="none" stroke="rgb(64,64,64)" stroke-width="24" stroke-linecap="round" stroke-linejoin="round"/>
<path d="M1090 245 L1095 243" fill="none" stroke="rgb(64,64,64)" stroke-width="16" stroke-linecap="round" stroke-linejoin="round"/>
<path d="M1070 288 L1078 293" fill="none" stroke="rgb(64,64,64)" stroke-width="17" stroke-linecap="round" stroke-linejoin="round"/>
<path d="M1025 362 L1045 365 L1065 362 L1085 368 L1097 370" fill="none" stroke="rgb(64,64,64)" stroke-width="20" stroke-linecap="round" stroke-linejoin="round"/>
<path d="M1137 360 L1150 355 L1165 365 L1180 360 L1195 365 L1205 372 L1200 385 L1190 395 L1135 395 L1132 380Z" fill="rgb(64,64,64)" stroke="rgb(64,64,64)" stroke-width="9" stroke-linejoin="round"/>
<path d="M1247 400 L1255 412" fill="none" stroke="rgb(64,64,64)" stroke-width="17" stroke-linecap="round" stroke-linejoin="round"/>
<path d="M1268 402 L1280 415 L1295 425 L1300 440" fill="none" stroke="rgb(64,64,64)" stroke-width="17" stroke-linecap="round" stroke-linejoin="round"/>
<path d="M1350 430 L1365 422 L1380 415" fill="none" stroke="rgb(64,64,64)" stroke-width="16" stroke-linecap="round" stroke-linejoin="round"/>
<path d="M1390 322 L1400 317 L1410 324 L1412 342 L1402 352 L1392 347 L1388 335Z" fill="rgb(64,64,64)" stroke="rgb(64,64,64)" stroke-width="9" stroke-linejoin="round"/>
<path d="M1392 405 L1398 420" fill="none" stroke="rgb(64,64,64)" stroke-width="14" stroke-linecap="round" stroke-linejoin="round"/>
<path d="M1538 258 L1537 278" fill="none" stroke="rgb(64,64,64)" stroke-width="23" stroke-linecap="round" stroke-linejoin="round"/>
<path d="M1530 288 L1510 290 L1495 298 L1485 308" fill="none" stroke="rgb(64,64,64)" stroke-width="19" stroke-linecap="round" stroke-linejoin="round"/>
<path d="M1462 375 L1472 385 L1468 393" fill="none" stroke="rgb(64,64,64)" stroke-width="18" stroke-linecap="round" stroke-linejoin="round"/>
<path d="M1278 535 L1292 520 L1307 505 L1322 490 L1336 479 L1347 482 L1344 500 L1334 515 L1320 525 L1300 535 L1287 540Z" fill="rgb(64,64,64)" stroke="rgb(64,64,64)" stroke-width="9" stroke-linejoin="round"/>
<path d="M1376 476 L1378 490 L1373 504" fill="none" stroke="rgb(64,64,64)" stroke-width="16" stroke-linecap="round" stroke-linejoin="round"/>
<path d="M1336 470 L1350 463" fill="none" stroke="rgb(64,64,64)" stroke-width="15" stroke-linecap="round" stroke-linejoin="round"/>
<path d="M1285 590 L1295 580 L1310 582 L1325 588 L1340 592 L1348 598 L1335 605 L1320 612 L1305 615 L1292 608Z" fill="rgb(64,64,64)" stroke="rgb(64,64,64)" stroke-width="9" stroke-linejoin="round"/>
<path d="M1222 612 L1240 618 L1255 612 L1268 605" fill="none" stroke="rgb(64,64,64)" stroke-width="17" stroke-linecap="round" stroke-linejoin="round"/>
<path d="M1268 620 L1276 613 L1285 621 L1277 630 L1268 620" fill="none" stroke="rgb(64,64,64)" stroke-width="14" stroke-linecap="round" stroke-linejoin="round"/>
<path d="M1095 625 L1110 632 L1125 628 L1135 640 L1150 648 L1162 642 L1175 630 L1190 628 L1205 625 L1215 618" fill="none" stroke="rgb(64,64,64)" stroke-width="17" stroke-linecap="round" stroke-linejoin="round"/>
<path d="M1048 595 L1065 592 L1085 598 L1085 615 L1075 630 L1060 632 L1052 618Z" fill="rgb(64,64,64)" stroke="rgb(64,64,64)" stroke-width="9" stroke-linejoin="round"/>
<path d="M785 540 L800 538 L815 536" fill="none" stroke="rgb(64,64,64)" stroke-width="14" stroke-linecap="round" stroke-linejoin="round"/>
<path d="M768 575 L775 590 L770 605" fill="none" stroke="rgb(64,64,64)" stroke-width="18" stroke-linecap="round" stroke-linejoin="round"/>
<path d="M800 600 L812 605 L822 598 L830 595" fill="none" stroke="rgb(64,64,64)" stroke-width="15" stroke-linecap="round" stroke-linejoin="round"/>
<path d="M812 610 L808 625 L795 635 L785 648 L770 655 L755 660" fill="none" stroke="rgb(64,64,64)" stroke-width="14" stroke-linecap="round" stroke-linejoin="round"/>
<path d="M750 662 L738 650 L728 640" fill="none" stroke="rgb(64,64,64)" stroke-width="14" stroke-linecap="round" stroke-linejoin="round"/>
<path d="M830 597 L850 600 L870 608 L890 615 L905 618 L920 610 L935 600 L945 590" fill="none" stroke="rgb(64,64,64)" stroke-width="16" stroke-linecap="round" stroke-linejoin="round"/>
<path d="M915 590 L925 580 L940 578" fill="none" stroke="rgb(64,64,64)" stroke-width="14" stroke-linecap="round" stroke-linejoin="round"/>
<path d="M930 605 L945 615" fill="none" stroke="rgb(64,64,64)" stroke-width="14" stroke-linecap="round" stroke-linejoin="round"/>
<path d="M879 569 L880 570" fill="none" stroke="rgb(64,64,64)" stroke-width="14" stroke-linecap="round" stroke-linejoin="round"/>
<path d="M990 578 L1005 575 L1015 590 L1012 612 L998 618 L990 600Z" fill="rgb(64,64,64)" stroke="rgb(64,64,64)" stroke-width="9" stroke-linejoin="round"/>
<path d="M968 560 L976 565" fill="none" stroke="rgb(64,64,64)" stroke-width="16" stroke-linecap="round" stroke-linejoin="round"/>
<path d="M955 615 L975 622 L1000 618" fill="none" stroke="rgb(64,64,64)" stroke-width="14" stroke-linecap="round" stroke-linejoin="round"/>
<path d="M870 695 L885 692 L900 697 L906 712 L895 719 L878 715Z" fill="rgb(64,64,64)" stroke="rgb(64,64,64)" stroke-width="9" stroke-linejoin="round"/>
<path d="M907 700 L925 697 L940 696 L950 706" fill="none" stroke="rgb(64,64,64)" stroke-width="16" stroke-linecap="round" stroke-linejoin="round"/>
<path d="M938 708 L955 706 L966 716 L964 730 L948 730 L938 720Z" fill="rgb(64,64,64)" stroke="rgb(64,64,64)" stroke-width="9" stroke-linejoin="round"/>
<path d="M850 772 L862 775 L870 785 L878 795 L880 810 L870 818 L858 815 L850 800 L853 785Z" fill="rgb(64,64,64)" stroke="rgb(64,64,64)" stroke-width="9" stroke-linejoin="round"/>
<path d="M750 688 L776 685 L782 698 L760 704Z" fill="rgb(64,64,64)" stroke="rgb(64,64,64)" stroke-width="9" stroke-linejoin="round"/>
<path d="M975 700 L990 697 L1003 703 L1005 718 L995 728 L980 726" fill="none" stroke="rgb(64,64,64)" stroke-width="16" stroke-linecap="round" stroke-linejoin="round"/>
<path d="M1000 708 L1020 710 L1040 715 L1055 718" fill="none" stroke="rgb(64,64,64)" stroke-width="17" stroke-linecap="round" stroke-linejoin="round"/>
<path d="M1005 720 L1025 718 L1037 732 L1025 744 L1010 740Z" fill="rgb(64,64,64)" stroke="rgb(64,64,64)" stroke-width="9" stroke-linejoin="round"/>
<path d="M1152 700 L1165 705 L1185 712 L1200 708 L1215 705 L1232 712 L1235 725 L1225 738 L1210 742 L1200 735 L1190 725 L1175 722 L1160 715Z" fill="rgb(64,64,64)" stroke="rgb(64,64,64)" stroke-width="9" stroke-linejoin="round"/>
<path d="M1231 812 L1236 823 L1245 833 L1256 832 L1262 823" fill="none" stroke="rgb(64,64,64)" stroke-width="15" stroke-linecap="round" stroke-linejoin="round"/>
<path d="M1220 793 L1221 803" fill="none" stroke="rgb(64,64,64)" stroke-width="14" stroke-linecap="round" stroke-linejoin="round"/>
</g></g>
<g style="mix-blend-mode:lighten"><g filter="url(#bc)">
<path d="M395 250 L412 254 L432 259" fill="none" stroke="rgb(115,115,115)" stroke-width="16" stroke-linecap="round" stroke-linejoin="round"/>
<path d="M352 355 L372 352 L388 362 L402 370" fill="none" stroke="rgb(115,115,115)" stroke-width="13" stroke-linecap="round" stroke-linejoin="round"/>
<path d="M592 400 L610 393 L640 391 L665 398 L680 402" fill="none" stroke="rgb(115,115,115)" stroke-width="20" stroke-linecap="round" stroke-linejoin="round"/>
<path d="M640 385 L650 378" fill="none" stroke="rgb(115,115,115)" stroke-width="11" stroke-linecap="round" stroke-linejoin="round"/>
<path d="M610 405 L625 410" fill="none" stroke="rgb(115,115,115)" stroke-width="11" stroke-linecap="round" stroke-linejoin="round"/>
<path d="M556 201 L558 220 L556 240" fill="none" stroke="rgb(115,115,115)" stroke-width="14" stroke-linecap="round" stroke-linejoin="round"/>
<path d="M677 200 L697 201" fill="none" stroke="rgb(115,115,115)" stroke-width="10" stroke-linecap="round" stroke-linejoin="round"/>
<path d="M716 442 L735 433 L760 425 L778 422 L778 448 L766 462 L748 462 L735 452 L722 456Z" fill="rgb(115,115,115)" stroke="rgb(115,115,115)" stroke-width="5" stroke-linejoin="round"/>
<path d="M740 352 L760 340 L785 325 L812 313" fill="none" stroke="rgb(115,115,115)" stroke-width="15" stroke-linecap="round" stroke-linejoin="round"/>
<path d="M740 358 L770 357 L800 353 L830 357" fill="none" stroke="rgb(115,115,115)" stroke-width="13" stroke-linecap="round" stroke-linejoin="round"/>
<path d="M843 330 L868 316 L882 335 L902 345" fill="none" stroke="rgb(115,115,115)" stroke-width="15" stroke-linecap="round" stroke-linejoin="round"/>
<path d="M975 215 L988 211 L1005 216 L1025 222 L1035 226 L1020 238 L1005 250 L996 262 L987 262 L986 245 L977 230Z" fill="rgb(115,115,115)" stroke="rgb(115,115,115)" stroke-width="5" stroke-linejoin="round"/>
<path d="M912 305 L920 300 L928 310 L925 322 L940 330" fill="none" stroke="rgb(115,115,115)" stroke-width="10" stroke-linecap="round" stroke-linejoin="round"/>
<path d="M925 324 L940 334 L955 339 L972 336" fill="none" stroke="rgb(115,115,115)" stroke-width="19" stroke-linecap="round" stroke-linejoin="round"/>
<path d="M962 330 L975 315 L983 303" fill="none" stroke="rgb(115,115,115)" stroke-width="12" stroke-linecap="round" stroke-linejoin="round"/>
<path d="M910 358 L940 360 L965 362 L990 368 L1020 375" fill="none" stroke="rgb(115,115,115)" stroke-width="18" stroke-linecap="round" stroke-linejoin="round"/>
<path d="M995 330 L1010 335 L1020 342" fill="none" stroke="rgb(115,115,115)" stroke-width="10" stroke-linecap="round" stroke-linejoin="round"/>
<path d="M793 370 L797 385 L792 400 L775 410 L765 415" fill="none" stroke="rgb(115,115,115)" stroke-width="16" stroke-linecap="round" stroke-linejoin="round"/>
<path d="M838 380 L852 378 L858 392 L852 405 L840 406 L834 394Z" fill="rgb(115,115,115)" stroke="rgb(115,115,115)" stroke-width="5" stroke-linejoin="round"/>
<path d="M930 395 L934 398" fill="none" stroke="rgb(115,115,115)" stroke-width="13" stroke-linecap="round" stroke-linejoin="round"/>
<path d="M892 378 L892.5 378" fill="none" stroke="rgb(115,115,115)" stroke-width="10" stroke-linecap="round" stroke-linejoin="round"/>
<path d="M842 470 L860 462 L890 462 L920 460 L945 462 L945 500 L925 505 L900 500 L880 503 L860 510 L845 515 L835 520 L825 525 L822 518 L835 505 L840 490Z" fill="rgb(115,115,115)" stroke="rgb(115,115,115)" stroke-width="5" stroke-linejoin="round"/>
<path d="M948 462 L975 460 L1000 470 L1020 475 L1040 480 L1050 495 L1048 520 L1030 530 L1005 532 L985 525 L975 515 L990 510 L998 498 L985 485 L965 485 L950 480Z" fill="rgb(115,115,115)" stroke="rgb(115,115,115)" stroke-width="5" stroke-linejoin="round"/>
<path d="M1050 460 L1054 464" fill="none" stroke="rgb(115,115,115)" stroke-width="15" stroke-linecap="round" stroke-linejoin="round"/>
<path d="M1065 478 L1080 482 L1100 482" fill="none" stroke="rgb(115,115,115)" stroke-width="14" stroke-linecap="round" stroke-linejoin="round"/>
<path d="M1108 480 L1120 490 L1135 498 L1150 492" fill="none" stroke="rgb(115,115,115)" stroke-width="14" stroke-linecap="round" stroke-linejoin="round"/>
<path d="M1130 510 L1145 500 L1160 492 L1175 495 L1180 510 L1195 520 L1200 535 L1185 540 L1165 535 L1150 530 L1135 522Z" fill="rgb(115,115,115)" stroke="rgb(115,115,115)" stroke-width="5" stroke-linejoin="round"/>
<path d="M1220 488 L1232 486 L1240 497 L1234 508 L1222 507 L1216 497Z" fill="rgb(115,115,115)" stroke="rgb(115,115,115)" stroke-width="5" stroke-linejoin="round"/>
<path d="M1055 263 L1075 258 L1090 262 L1110 272 L1135 272 L1160 270 L1180 276" fill="none" stroke="rgb(115,115,115)" stroke-width="20" stroke-linecap="round" stroke-linejoin="round"/>
<path d="M1090 245 L1095 243" fill="none" stroke="rgb(115,115,115)" stroke-width="12" stroke-linecap="round" stroke-linejoin="round"/>
<path d="M1070 288 L1078 293" fill="none" stroke="rgb(115,115,115)" stroke-width="13" stroke-linecap="round" stroke-linejoin="round"/>
<path d="M1025 362 L1045 365 L1065 362 L1085 368 L1097 370" fill="none" stroke="rgb(115,115,115)" stroke-width="16" stroke-linecap="round" stroke-linejoin="round"/>
<path d="M1137 360 L1150 355 L1165 365 L1180 360 L1195 365 L1205 372 L1200 385 L1190 395 L1135 395 L1132 380Z" fill="rgb(115,115,115)" stroke="rgb(115,115,115)" stroke-width="5" stroke-linejoin="round"/>
<path d="M1247 400 L1255 412" fill="none" stroke="rgb(115,115,115)" stroke-width="13" stroke-linecap="round" stroke-linejoin="round"/>
<path d="M1268 402 L1280 415 L1295 425 L1300 440" fill="none" stroke="rgb(115,115,115)" stroke-width="13" stroke-linecap="round" stroke-linejoin="round"/>
<path d="M1350 430 L1365 422 L1380 415" fill="none" stroke="rgb(115,115,115)" stroke-width="12" stroke-linecap="round" stroke-linejoin="round"/>
<path d="M1390 322 L1400 317 L1410 324 L1412 342 L1402 352 L1392 347 L1388 335Z" fill="rgb(115,115,115)" stroke="rgb(115,115,115)" stroke-width="5" stroke-linejoin="round"/>
<path d="M1392 405 L1398 420" fill="none" stroke="rgb(115,115,115)" stroke-width="10" stroke-linecap="round" stroke-linejoin="round"/>
<path d="M1538 258 L1537 278" fill="none" stroke="rgb(115,115,115)" stroke-width="19" stroke-linecap="round" stroke-linejoin="round"/>
<path d="M1530 288 L1510 290 L1495 298 L1485 308" fill="none" stroke="rgb(115,115,115)" stroke-width="15" stroke-linecap="round" stroke-linejoin="round"/>
<path d="M1462 375 L1472 385 L1468 393" fill="none" stroke="rgb(115,115,115)" stroke-width="14" stroke-linecap="round" stroke-linejoin="round"/>
<path d="M1278 535 L1292 520 L1307 505 L1322 490 L1336 479 L1347 482 L1344 500 L1334 515 L1320 525 L1300 535 L1287 540Z" fill="rgb(115,115,115)" stroke="rgb(115,115,115)" stroke-width="5" stroke-linejoin="round"/>
<path d="M1376 476 L1378 490 L1373 504" fill="none" stroke="rgb(115,115,115)" stroke-width="12" stroke-linecap="round" stroke-linejoin="round"/>
<path d="M1336 470 L1350 463" fill="none" stroke="rgb(115,115,115)" stroke-width="11" stroke-linecap="round" stroke-linejoin="round"/>
<path d="M1285 590 L1295 580 L1310 582 L1325 588 L1340 592 L1348 598 L1335 605 L1320 612 L1305 615 L1292 608Z" fill="rgb(115,115,115)" stroke="rgb(115,115,115)" stroke-width="5" stroke-linejoin="round"/>
<path d="M1222 612 L1240 618 L1255 612 L1268 605" fill="none" stroke="rgb(115,115,115)" stroke-width="13" stroke-linecap="round" stroke-linejoin="round"/>
<path d="M1268 620 L1276 613 L1285 621 L1277 630 L1268 620" fill="none" stroke="rgb(115,115,115)" stroke-width="10" stroke-linecap="round" stroke-linejoin="round"/>
<path d="M1095 625 L1110 632 L1125 628 L1135 640 L1150 648 L1162 642 L1175 630 L1190 628 L1205 625 L1215 618" fill="none" stroke="rgb(115,115,115)" stroke-width="13" stroke-linecap="round" stroke-linejoin="round"/>
<path d="M1048 595 L1065 592 L1085 598 L1085 615 L1075 630 L1060 632 L1052 618Z" fill="rgb(115,115,115)" stroke="rgb(115,115,115)" stroke-width="5" stroke-linejoin="round"/>
<path d="M785 540 L800 538 L815 536" fill="none" stroke="rgb(115,115,115)" stroke-width="10" stroke-linecap="round" stroke-linejoin="round"/>
<path d="M768 575 L775 590 L770 605" fill="none" stroke="rgb(115,115,115)" stroke-width="14" stroke-linecap="round" stroke-linejoin="round"/>
<path d="M800 600 L812 605 L822 598 L830 595" fill="none" stroke="rgb(115,115,115)" stroke-width="11" stroke-linecap="round" stroke-linejoin="round"/>
<path d="M812 610 L808 625 L795 635 L785 648 L770 655 L755 660" fill="none" stroke="rgb(115,115,115)" stroke-width="10" stroke-linecap="round" stroke-linejoin="round"/>
<path d="M750 662 L738 650 L728 640" fill="none" stroke="rgb(115,115,115)" stroke-width="10" stroke-linecap="round" stroke-linejoin="round"/>
<path d="M830 597 L850 600 L870 608 L890 615 L905 618 L920 610 L935 600 L945 590" fill="none" stroke="rgb(115,115,115)" stroke-width="12" stroke-linecap="round" stroke-linejoin="round"/>
<path d="M915 590 L925 580 L940 578" fill="none" stroke="rgb(115,115,115)" stroke-width="10" stroke-linecap="round" stroke-linejoin="round"/>
<path d="M930 605 L945 615" fill="none" stroke="rgb(115,115,115)" stroke-width="10" stroke-linecap="round" stroke-linejoin="round"/>
<path d="M879 569 L880 570" fill="none" stroke="rgb(115,115,115)" stroke-width="10" stroke-linecap="round" stroke-linejoin="round"/>
<path d="M990 578 L1005 575 L1015 590 L1012 612 L998 618 L990 600Z" fill="rgb(115,115,115)" stroke="rgb(115,115,115)" stroke-width="5" stroke-linejoin="round"/>
<path d="M968 560 L976 565" fill="none" stroke="rgb(115,115,115)" stroke-width="12" stroke-linecap="round" stroke-linejoin="round"/>
<path d="M955 615 L975 622 L1000 618" fill="none" stroke="rgb(115,115,115)" stroke-width="10" stroke-linecap="round" stroke-linejoin="round"/>
<path d="M870 695 L885 692 L900 697 L906 712 L895 719 L878 715Z" fill="rgb(115,115,115)" stroke="rgb(115,115,115)" stroke-width="5" stroke-linejoin="round"/>
<path d="M907 700 L925 697 L940 696 L950 706" fill="none" stroke="rgb(115,115,115)" stroke-width="12" stroke-linecap="round" stroke-linejoin="round"/>
<path d="M938 708 L955 706 L966 716 L964 730 L948 730 L938 720Z" fill="rgb(115,115,115)" stroke="rgb(115,115,115)" stroke-width="5" stroke-linejoin="round"/>
<path d="M850 772 L862 775 L870 785 L878 795 L880 810 L870 818 L858 815 L850 800 L853 785Z" fill="rgb(115,115,115)" stroke="rgb(115,115,115)" stroke-width="5" stroke-linejoin="round"/>
<path d="M750 688 L776 685 L782 698 L760 704Z" fill="rgb(115,115,115)" stroke="rgb(115,115,115)" stroke-width="5" stroke-linejoin="round"/>
<path d="M975 700 L990 697 L1003 703 L1005 718 L995 728 L980 726" fill="none" stroke="rgb(115,115,115)" stroke-width="12" stroke-linecap="round" stroke-linejoin="round"/>
<path d="M1000 708 L1020 710 L1040 715 L1055 718" fill="none" stroke="rgb(115,115,115)" stroke-width="13" stroke-linecap="round" stroke-linejoin="round"/>
<path d="M1005 720 L1025 718 L1037 732 L1025 744 L1010 740Z" fill="rgb(115,115,115)" stroke="rgb(115,115,115)" stroke-width="5" stroke-linejoin="round"/>
<path d="M1152 700 L1165 705 L1185 712 L1200 708 L1215 705 L1232 712 L1235 725 L1225 738 L1210 742 L1200 735 L1190 725 L1175 722 L1160 715Z" fill="rgb(115,115,115)" stroke="rgb(115,115,115)" stroke-width="5" stroke-linejoin="round"/>
<path d="M1231 812 L1236 823 L1245 833 L1256 832 L1262 823" fill="none" stroke="rgb(115,115,115)" stroke-width="11" stroke-linecap="round" stroke-linejoin="round"/>
<path d="M1220 793 L1221 803" fill="none" stroke="rgb(115,115,115)" stroke-width="10" stroke-linecap="round" stroke-linejoin="round"/>
<path d="M395 250 L412 254 L432 259" fill="none" stroke="rgb(186,186,186)" stroke-width="11" stroke-linecap="round" stroke-linejoin="round"/>
<path d="M352 355 L372 352 L388 362 L402 370" fill="none" stroke="rgb(175,175,175)" stroke-width="8" stroke-linecap="round" stroke-linejoin="round"/>
<path d="M592 400 L610 393 L640 391 L665 398 L680 402" fill="none" stroke="rgb(186,186,186)" stroke-width="15" stroke-linecap="round" stroke-linejoin="round"/>
<path d="M640 385 L650 378" fill="none" stroke="rgb(175,175,175)" stroke-width="6" stroke-linecap="round" stroke-linejoin="round"/>
<path d="M610 405 L625 410" fill="none" stroke="rgb(175,175,175)" stroke-width="6" stroke-linecap="round" stroke-linejoin="round"/>
<path d="M556 201 L558 220 L556 240" fill="none" stroke="rgb(164,164,164)" stroke-width="9" stroke-linecap="round" stroke-linejoin="round"/>
<path d="M677 200 L697 201" fill="none" stroke="rgb(175,175,175)" stroke-width="5" stroke-linecap="round" stroke-linejoin="round"/>
<path d="M716 442 L735 433 L760 425 L778 422 L778 448 L766 462 L748 462 L735 452 L722 456Z" fill="rgb(197,197,197)"/>
<path d="M848 202 L849 203" fill="none" stroke="rgb(166,166,166)" stroke-width="7" stroke-linecap="round" stroke-linejoin="round"/>
<path d="M865 203 L866 204" fill="none" stroke="rgb(166,166,166)" stroke-width="7" stroke-linecap="round" stroke-linejoin="round"/>
<path d="M740 352 L760 340 L785 325 L812 313" fill="none" stroke="rgb(193,193,193)" stroke-width="10" stroke-linecap="round" stroke-linejoin="round"/>
<path d="M740 358 L770 357 L800 353 L830 357" fill="none" stroke="rgb(193,193,193)" stroke-width="8" stroke-linecap="round" stroke-linejoin="round"/>
<path d="M843 330 L868 316 L882 335 L902 345" fill="none" stroke="rgb(193,193,193)" stroke-width="10" stroke-linecap="round" stroke-linejoin="round"/>
<path d="M975 215 L988 211 L1005 216 L1025 222 L1035 226 L1020 238 L1005 250 L996 262 L987 262 L986 245 L977 230Z" fill="rgb(197,197,197)"/>
<path d="M912 305 L920 300 L928 310 L925 322 L940 330" fill="none" stroke="rgb(186,186,186)" stroke-width="5" stroke-linecap="round" stroke-linejoin="round"/>
<path d="M925 324 L940 334 L955 339 L972 336" fill="none" stroke="rgb(193,193,193)" stroke-width="14" stroke-linecap="round" stroke-linejoin="round"/>
<path d="M962 330 L975 315 L983 303" fill="none" stroke="rgb(186,186,186)" stroke-width="7" stroke-linecap="round" stroke-linejoin="round"/>
<path d="M910 358 L940 360 L965 362 L990 368 L1020 375" fill="none" stroke="rgb(193,193,193)" stroke-width="13" stroke-linecap="round" stroke-linejoin="round"/>
<path d="M995 330 L1010 335 L1020 342" fill="none" stroke="rgb(175,175,175)" stroke-width="5" stroke-linecap="round" stroke-linejoin="round"/>
<path d="M793 370 L797 385 L792 400 L775 410 L765 415" fill="none" stroke="rgb(193,193,193)" stroke-width="11" stroke-linecap="round" stroke-linejoin="round"/>
<path d="M838 380 L852 378 L858 392 L852 405 L840 406 L834 394Z" fill="rgb(186,186,186)"/>
<path d="M930 395 L934 398" fill="none" stroke="rgb(175,175,175)" stroke-width="8" stroke-linecap="round" stroke-linejoin="round"/>
<path d="M892 378 L892.5 378" fill="none" stroke="rgb(154,154,154)" stroke-width="5" stroke-linecap="round" stroke-linejoin="round"/>
<path d="M842 470 L860 462 L890 462 L920 460 L945 462 L945 500 L925 505 L900 500 L880 503 L860 510 L845 515 L835 520 L825 525 L822 518 L835 505 L840 490Z" fill="rgb(197,197,197)"/>
<path d="M948 462 L975 460 L1000 470 L1020 475 L1040 480 L1050 495 L1048 520 L1030 530 L1005 532 L985 525 L975 515 L990 510 L998 498 L985 485 L965 485 L950 480Z" fill="rgb(197,197,197)"/>
<path d="M1050 460 L1054 464" fill="none" stroke="rgb(154,154,154)" stroke-width="10" stroke-linecap="round" stroke-linejoin="round"/>
<path d="M1065 478 L1080 482 L1100 482" fill="none" stroke="rgb(186,186,186)" stroke-width="9" stroke-linecap="round" stroke-linejoin="round"/>
<path d="M1108 480 L1120 490 L1135 498 L1150 492" fill="none" stroke="rgb(186,186,186)" stroke-width="9" stroke-linecap="round" stroke-linejoin="round"/>
<path d="M1130 510 L1145 500 L1160 492 L1175 495 L1180 510 L1195 520 L1200 535 L1185 540 L1165 535 L1150 530 L1135 522Z" fill="rgb(197,197,197)"/>
<path d="M1220 488 L1232 486 L1240 497 L1234 508 L1222 507 L1216 497Z" fill="rgb(193,193,193)"/>
<path d="M1055 263 L1075 258 L1090 262 L1110 272 L1135 272 L1160 270 L1180 276" fill="none" stroke="rgb(193,193,193)" stroke-width="15" stroke-linecap="round" stroke-linejoin="round"/>
<path d="M1090 245 L1095 243" fill="none" stroke="rgb(186,186,186)" stroke-width="7" stroke-linecap="round" stroke-linejoin="round"/>
<path d="M1070 288 L1078 293" fill="none" stroke="rgb(164,164,164)" stroke-width="8" stroke-linecap="round" stroke-linejoin="round"/>
<path d="M1025 362 L1045 365 L1065 362 L1085 368 L1097 370" fill="none" stroke="rgb(193,193,193)" stroke-width="11" stroke-linecap="round" stroke-linejoin="round"/>
<path d="M1137 360 L1150 355 L1165 365 L1180 360 L1195 365 L1205 372 L1200 385 L1190 395 L1135 395 L1132 380Z" fill="rgb(197,197,197)"/>
<path d="M1125 409 L1127 411" fill="none" stroke="rgb(166,166,166)" stroke-width="9" stroke-linecap="round" stroke-linejoin="round"/>
<path d="M1054 432 L1056 434" fill="none" stroke="rgb(166,166,166)" stroke-width="6" stroke-linecap="round" stroke-linejoin="round"/>
<path d="M1247 400 L1255 412" fill="none" stroke="rgb(175,175,175)" stroke-width="8" stroke-linecap="round" stroke-linejoin="round"/>
<path d="M1268 402 L1280 415 L1295 425 L1300 440" fill="none" stroke="rgb(180,180,180)" stroke-width="8" stroke-linecap="round" stroke-linejoin="round"/>
<path d="M1350 430 L1365 422 L1380 415" fill="none" stroke="rgb(186,186,186)" stroke-width="7" stroke-linecap="round" stroke-linejoin="round"/>
<path d="M1390 322 L1400 317 L1410 324 L1412 342 L1402 352 L1392 347 L1388 335Z" fill="rgb(171,171,171)"/>
<path d="M1415 355 L1410 375 L1405 395 L1400 410" fill="none" stroke="rgb(176,176,176)" stroke-width="7" stroke-linecap="round" stroke-linejoin="round"/>
<path d="M1392 405 L1398 420" fill="none" stroke="rgb(175,175,175)" stroke-width="5" stroke-linecap="round" stroke-linejoin="round"/>
<path d="M1538 258 L1537 278" fill="none" stroke="rgb(197,197,197)" stroke-width="14" stroke-linecap="round" stroke-linejoin="round"/>
<path d="M1530 288 L1510 290 L1495 298 L1485 308" fill="none" stroke="rgb(186,186,186)" stroke-width="10" stroke-linecap="round" stroke-linejoin="round"/>
<path d="M1462 375 L1472 385 L1468 393" fill="none" stroke="rgb(186,186,186)" stroke-width="9" stroke-linecap="round" stroke-linejoin="round"/>
<path d="M1278 535 L1292 520 L1307 505 L1322 490 L1336 479 L1347 482 L1344 500 L1334 515 L1320 525 L1300 535 L1287 540Z" fill="rgb(197,197,197)"/>
<path d="M1376 476 L1378 490 L1373 504" fill="none" stroke="rgb(186,186,186)" stroke-width="7" stroke-linecap="round" stroke-linejoin="round"/>
<path d="M1336 470 L1350 463" fill="none" stroke="rgb(175,175,175)" stroke-width="6" stroke-linecap="round" stroke-linejoin="round"/>
<path d="M1285 590 L1295 580 L1310 582 L1325 588 L1340 592 L1348 598 L1335 605 L1320 612 L1305 615 L1292 608Z" fill="rgb(197,197,197)"/>
<path d="M1222 612 L1240 618 L1255 612 L1268 605" fill="none" stroke="rgb(186,186,186)" stroke-width="8" stroke-linecap="round" stroke-linejoin="round"/>
<path d="M1268 620 L1276 613 L1285 621 L1277 630 L1268 620" fill="none" stroke="rgb(186,186,186)" stroke-width="5" stroke-linecap="round" stroke-linejoin="round"/>
<path d="M1095 625 L1110 632 L1125 628 L1135 640 L1150 648 L1162 642 L1175 630 L1190 628 L1205 625 L1215 618" fill="none" stroke="rgb(186,186,186)" stroke-width="8" stroke-linecap="round" stroke-linejoin="round"/>
<path d="M1048 595 L1065 592 L1085 598 L1085 615 L1075 630 L1060 632 L1052 618Z" fill="rgb(193,193,193)"/>
<path d="M785 540 L800 538 L815 536" fill="none" stroke="rgb(175,175,175)" stroke-width="5" stroke-linecap="round" stroke-linejoin="round"/>
<path d="M768 575 L775 590 L770 605" fill="none" stroke="rgb(186,186,186)" stroke-width="9" stroke-linecap="round" stroke-linejoin="round"/>
<path d="M800 600 L812 605 L822 598 L830 595" fill="none" stroke="rgb(175,175,175)" stroke-width="6" stroke-linecap="round" stroke-linejoin="round"/>
<path d="M812 610 L808 625 L795 635 L785 648 L770 655 L755 660" fill="none" stroke="rgb(175,175,175)" stroke-width="5" stroke-linecap="round" stroke-linejoin="round"/>
<path d="M750 662 L738 650 L728 640" fill="none" stroke="rgb(175,175,175)" stroke-width="5" stroke-linecap="round" stroke-linejoin="round"/>
<path d="M830 597 L850 600 L870 608 L890 615 L905 618 L920 610 L935 600 L945 590" fill="none" stroke="rgb(186,186,186)" stroke-width="7" stroke-linecap="round" stroke-linejoin="round"/>
<path d="M915 590 L925 580 L940 578" fill="none" stroke="rgb(175,175,175)" stroke-width="5" stroke-linecap="round" stroke-linejoin="round"/>
<path d="M930 605 L945 615" fill="none" stroke="rgb(175,175,175)" stroke-width="5" stroke-linecap="round" stroke-linejoin="round"/>
<path d="M879 569 L880 570" fill="none" stroke="rgb(164,164,164)" stroke-width="5" stroke-linecap="round" stroke-linejoin="round"/>
<path d="M990 578 L1005 575 L1015 590 L1012 612 L998 618 L990 600Z" fill="rgb(193,193,193)"/>
<path d="M968 560 L976 565" fill="none" stroke="rgb(186,186,186)" stroke-width="7" stroke-linecap="round" stroke-linejoin="round"/>
<path d="M955 615 L975 622 L1000 618" fill="none" stroke="rgb(175,175,175)" stroke-width="5" stroke-linecap="round" stroke-linejoin="round"/>
<path d="M870 695 L885 692 L900 697 L906 712 L895 719 L878 715Z" fill="rgb(193,193,193)"/>
<path d="M907 700 L925 697 L940 696 L950 706" fill="none" stroke="rgb(186,186,186)" stroke-width="7" stroke-linecap="round" stroke-linejoin="round"/>
<path d="M938 708 L955 706 L966 716 L964 730 L948 730 L938 720Z" fill="rgb(193,193,193)"/>
<path d="M850 772 L862 775 L870 785 L878 795 L880 810 L870 818 L858 815 L850 800 L853 785Z" fill="rgb(202,202,202)"/>
<path d="M750 688 L776 685 L782 698 L760 704Z" fill="rgb(219,219,219)"/>
<path d="M975 700 L990 697 L1003 703 L1005 718 L995 728 L980 726" fill="none" stroke="rgb(193,193,193)" stroke-width="7" stroke-linecap="round" stroke-linejoin="round"/>
<path d="M1000 708 L1020 710 L1040 715 L1055 718" fill="none" stroke="rgb(193,193,193)" stroke-width="8" stroke-linecap="round" stroke-linejoin="round"/>
<path d="M1005 720 L1025 718 L1037 732 L1025 744 L1010 740Z" fill="rgb(175,175,175)"/>
<path d="M1152 700 L1165 705 L1185 712 L1200 708 L1215 705 L1232 712 L1235 725 L1225 738 L1210 742 L1200 735 L1190 725 L1175 722 L1160 715Z" fill="rgb(197,197,197)"/>
<path d="M1231 812 L1236 823 L1245 833 L1256 832 L1262 823" fill="none" stroke="rgb(193,193,193)" stroke-width="6" stroke-linecap="round" stroke-linejoin="round"/>
<path d="M1246 810 L1260 808 L1261 822 L1248 826Z" fill="rgb(140,140,140)"/>
<path d="M1241 768 L1243 770" fill="none" stroke="rgb(140,140,140)" stroke-width="6" stroke-linecap="round" stroke-linejoin="round"/>
<path d="M1233 785 L1234 786" fill="none" stroke="rgb(128,128,128)" stroke-width="5" stroke-linecap="round" stroke-linejoin="round"/>
<path d="M1242 801 L1243 802" fill="none" stroke="rgb(153,153,153)" stroke-width="5" stroke-linecap="round" stroke-linejoin="round"/>
<path d="M1220 793 L1221 803" fill="none" stroke="rgb(154,154,154)" stroke-width="5" stroke-linecap="round" stroke-linejoin="round"/>
<path d="M1251 849 L1259 851" fill="none" stroke="rgb(158,158,158)" stroke-width="8" stroke-linecap="round" stroke-linejoin="round"/>
</g></g>
<g style="mix-blend-mode:lighten"><g filter="url(#bt)">
<path d="M684 398 L692 390 L700 398 L692 406 L684 398" fill="none" stroke="rgb(175,175,175)" stroke-width="4" stroke-linecap="round" stroke-linejoin="round"/>
<path d="M705 395 L716 400" fill="none" stroke="rgb(175,175,175)" stroke-width="4" stroke-linecap="round" stroke-linejoin="round"/>
<path d="M556 240 L562 262" fill="none" stroke="rgb(154,154,154)" stroke-width="4" stroke-linecap="round" stroke-linejoin="round"/>
<path d="M582 257 L590 249 L600 255 L592 264 L582 257" fill="none" stroke="rgb(164,164,164)" stroke-width="3" stroke-linecap="round" stroke-linejoin="round"/>
<path d="M610 258 L618 253 L626 259 L618 264 L610 258" fill="none" stroke="rgb(164,164,164)" stroke-width="3" stroke-linecap="round" stroke-linejoin="round"/>
<path d="M606 218 L613 212 L620 218 L613 224 L606 218" fill="none" stroke="rgb(154,154,154)" stroke-width="3" stroke-linecap="round" stroke-linejoin="round"/>
<path d="M668 271 L690 268 L703 258" fill="none" stroke="rgb(164,164,164)" stroke-width="4" stroke-linecap="round" stroke-linejoin="round"/>
<path d="M760 462 L755 478 L740 488 L720 485" fill="none" stroke="rgb(164,164,164)" stroke-width="4" stroke-linecap="round" stroke-linejoin="round"/>
<path d="M818 200 L834 200" fill="none" stroke="rgb(186,186,186)" stroke-width="4" stroke-linecap="round" stroke-linejoin="round"/>
<path d="M786 243 L786.5 243" fill="none" stroke="rgb(175,175,175)" stroke-width="4" stroke-linecap="round" stroke-linejoin="round"/>
<path d="M884 238 L884.5 238" fill="none" stroke="rgb(186,186,186)" stroke-width="4" stroke-linecap="round" stroke-linejoin="round"/>
<path d="M740 385 L755 392 L765 400" fill="none" stroke="rgb(164,164,164)" stroke-width="3" stroke-linecap="round" stroke-linejoin="round"/>
<path d="M1005 325 L1015 335 L1022 345" fill="none" stroke="rgb(175,175,175)" stroke-width="4" stroke-linecap="round" stroke-linejoin="round"/>
<path d="M1300 452 L1315 430 L1335 415 L1350 410" fill="none" stroke="rgb(175,175,175)" stroke-width="3" stroke-linecap="round" stroke-linejoin="round"/>
<path d="M1308 455 L1325 432 L1345 420" fill="none" stroke="rgb(175,175,175)" stroke-width="3" stroke-linecap="round" stroke-linejoin="round"/>
<path d="M1290 446 L1300 430 L1312 420" fill="none" stroke="rgb(175,175,175)" stroke-width="3" stroke-linecap="round" stroke-linejoin="round"/>
<path d="M1325 362 L1340 365 L1343 378" fill="none" stroke="rgb(164,164,164)" stroke-width="4" stroke-linecap="round" stroke-linejoin="round"/>
<path d="M1435 315 L1432 340 L1438 360" fill="none" stroke="rgb(164,164,164)" stroke-width="4" stroke-linecap="round" stroke-linejoin="round"/>
<path d="M1450 315 L1445 335" fill="none" stroke="rgb(164,164,164)" stroke-width="4" stroke-linecap="round" stroke-linejoin="round"/>
<path d="M1465 325 L1460 350 L1455 368" fill="none" stroke="rgb(164,164,164)" stroke-width="4" stroke-linecap="round" stroke-linejoin="round"/>
<path d="M1480 310 L1483 328" fill="none" stroke="rgb(164,164,164)" stroke-width="4" stroke-linecap="round" stroke-linejoin="round"/>
<path d="M1428 398 L1440 402 L1452 398" fill="none" stroke="rgb(164,164,164)" stroke-width="4" stroke-linecap="round" stroke-linejoin="round"/>
<path d="M1522 328 L1532 326" fill="none" stroke="rgb(175,175,175)" stroke-width="4" stroke-linecap="round" stroke-linejoin="round"/>
<path d="M1248 518 L1262 500 L1280 480 L1295 465" fill="none" stroke="rgb(175,175,175)" stroke-width="3" stroke-linecap="round" stroke-linejoin="round"/>
<path d="M1258 522 L1275 500 L1290 485 L1305 470 L1320 455" fill="none" stroke="rgb(175,175,175)" stroke-width="3" stroke-linecap="round" stroke-linejoin="round"/>
<path d="M1270 530 L1290 515 L1310 495 L1325 480" fill="none" stroke="rgb(175,175,175)" stroke-width="4" stroke-linecap="round" stroke-linejoin="round"/>
<path d="M1145 580 L1160 565 L1175 552" fill="none" stroke="rgb(175,175,175)" stroke-width="3" stroke-linecap="round" stroke-linejoin="round"/>
<path d="M1152 586 L1170 568 L1190 552" fill="none" stroke="rgb(175,175,175)" stroke-width="3" stroke-linecap="round" stroke-linejoin="round"/>
<path d="M1180 585 L1200 570 L1220 555 L1235 547" fill="none" stroke="rgb(175,175,175)" stroke-width="3" stroke-linecap="round" stroke-linejoin="round"/>
<path d="M1222 572 L1240 560 L1260 552 L1278 548" fill="none" stroke="rgb(175,175,175)" stroke-width="4" stroke-linecap="round" stroke-linejoin="round"/>
<path d="M1235 578 L1255 568 L1275 560" fill="none" stroke="rgb(175,175,175)" stroke-width="4" stroke-linecap="round" stroke-linejoin="round"/>
<path d="M1175 590 L1185 597 L1196 595" fill="none" stroke="rgb(175,175,175)" stroke-width="4" stroke-linecap="round" stroke-linejoin="round"/>
<path d="M1112 600 L1120 596 L1127 602" fill="none" stroke="rgb(175,175,175)" stroke-width="4" stroke-linecap="round" stroke-linejoin="round"/>
<path d="M1045 680 L1054 696" fill="none" stroke="rgb(175,175,175)" stroke-width="3" stroke-linecap="round" stroke-linejoin="round"/>
<path d="M790 548 L785 560 L775 575" fill="none" stroke="rgb(175,175,175)" stroke-width="4" stroke-linecap="round" stroke-linejoin="round"/>
<path d="M955 575 L975 572 L1000 576" fill="none" stroke="rgb(164,164,164)" stroke-width="3" stroke-linecap="round" stroke-linejoin="round"/>
<path d="M958 586 L980 584" fill="none" stroke="rgb(164,164,164)" stroke-width="3" stroke-linecap="round" stroke-linejoin="round"/>
<path d="M1018 565 L1030 562 L1045 570 L1035 580" fill="none" stroke="rgb(175,175,175)" stroke-width="4" stroke-linecap="round" stroke-linejoin="round"/>
<path d="M1005 555 L1020 548 L1040 552" fill="none" stroke="rgb(175,175,175)" stroke-width="4" stroke-linecap="round" stroke-linejoin="round"/>
<path d="M885 640 L892 636 L900 644 L892 652 L885 644" fill="none" stroke="rgb(164,164,164)" stroke-width="3" stroke-linecap="round" stroke-linejoin="round"/>
<path d="M775 700 L790 720 L810 735 L835 742 L855 735 L868 720 L866 705" fill="none" stroke="rgb(175,175,175)" stroke-width="3" stroke-linecap="round" stroke-linejoin="round"/>
<path d="M820 765 L830 758 L845 760 L850 772" fill="none" stroke="rgb(175,175,175)" stroke-width="4" stroke-linecap="round" stroke-linejoin="round"/>
<path d="M1265 800 L1268 816" fill="none" stroke="rgb(175,175,175)" stroke-width="4" stroke-linecap="round" stroke-linejoin="round"/>
<path d="M1258 790 L1261 791 L1260 794 L1258 790" fill="none" stroke="rgb(154,154,154)" stroke-width="3" stroke-linecap="round" stroke-linejoin="round"/>
</g></g>
</g>

</g>
<g fill="none" stroke="#000" stroke-width="3.3" stroke-linejoin="round" stroke-linecap="round">
<path d="M316 196 L934 196 L934 186 L942.5 186 L945 201 L950 204 L965 207.5 L975 205.5 L987.5 207.5 L997.5 215 L1007.5 216 L1017.5 221 L1030 216 L1037.5 220 L1050 221 L1061 224 L1045 231 L1025 241 L1010 252.5 L999 260 L1005 260 L1025 255 L1031 253 L1030 262 L1040 261 L1055 256 L1070 251 L1082.5 242.5 L1090 239 L1100 239 L1100 241 L1087.5 250 L1084 256 L1090 254 L1100 256 L1110 264 L1125 264 L1137.5 260 L1162.5 258 L1164 266 L1177.5 269 L1180 275 L1185 280 L1175 281 L1162.5 280 L1150 277.5 L1135 281 L1125 284 L1115 285 L1110 295 L1102.5 302.5 L1094 320 L1097 321 L1112.5 300 L1113 304 L1107.5 317.5 L1102.5 330 L1100 345 L1097.5 360 L1099 375 L1102.5 390 L1110 399 L1125 398 L1132.5 382.5 L1135 367.5 L1131 350 L1129 335 L1132.5 322.5 L1135 312.5 L1147.5 305 L1157.5 297.5 L1161 290 L1165 285 L1180 290 L1195 297.5 L1200 305 L1197.5 315 L1197.5 325 L1190 335 L1185 341 L1190 347.5 L1200 337.5 L1210 334 L1216 343 L1219 362.5 L1215 372.5 L1210 375 L1205 385 L1200 394 L1197.5 398 L1207.5 405 L1217.5 407.5 L1232.5 405 L1245 399 L1260 392.5 L1277.5 384 L1292.5 372.5 L1297.5 367.5 L1295 357.5 L1300 354 L1312.5 353 L1327.5 356 L1342.5 355 L1355 349 L1357.5 340 L1355 334 L1365 325 L1375 315 L1387.5 307.5 L1462.5 307.5 L1465 300 L1474 299 L1482.5 294 L1490 280 L1492.5 270 L1497.5 259 L1507.5 246 L1515 239 L1519 240 L1520 245 L1535 241 L1546 250 L1547.5 286 L1554 291 L1555 301 L1562.5 305 L1564 312.5 L1550 319 L1537.5 322.5 L1522.5 322.5 L1517.5 332.5 L1510 337.5 L1495 342.5 L1487.5 352.5 L1482.5 362.5 L1479 367.5 L1477.5 370 L1481 375 L1475 382.5 L1482.5 390 L1485 397 L1491 391 L1497.5 394 L1498 403 L1488 404 L1480 407 L1472 406 L1465 408 L1458 407 L1448 410 L1437 412 L1425 416 L1415 419 L1411 420 L1407 427 L1402 433 L1408.5 438 L1407.4 448 L1404 455 L1397 463 L1388 477 L1384 470 L1379 463 L1374 456 L1370 453 L1371 458 L1374 465 L1378 472 L1380 479 L1383 485 L1385 490 L1384 497.5 L1377.5 507.5 L1370 517.5 L1364 527.5 L1367.5 510 L1365 497.5 L1360 487.5 L1357.5 475 L1362.5 462.5 L1365 460 L1357 463 L1350 467.5 L1350 480 L1348 492 L1340 487 L1336 490 L1343 500 L1355 507.5 L1345 515 L1355 520 L1342.5 525 L1352.5 530 L1362.5 535 L1365 538 L1367.5 545 L1372 558 L1374 567 L1374 576 L1365 584 L1356 591 L1349.5 596.4 L1338 598.6 L1329 604 L1322.6 610 L1320.4 617.7 L1307 620 L1298 625.5 L1291 634.5 L1286.7 643.5 L1275.5 650 L1264 657 L1255 663.7 L1251 672.6 L1247.5 677.5 L1244 686 L1240 694 L1240 705 L1240 709 L1245 731.5 L1252.5 754 L1260 779 L1267.5 801.5 L1272.5 819 L1271 844 L1267.5 854 L1260 862.5 L1247.5 861.5 L1242.5 851.5 L1235 841.5 L1230 826.5 L1220 814 L1215 799 L1211 787 L1211 779 L1214 761.5 L1207.5 749 L1197.5 736.5 L1187.5 725 L1177.5 725 L1167.5 733 L1155 736.5 L1150 731.5 L1147.5 725 L1137.5 717.5 L1125 715 L1112.5 712.5 L1104 714 L1102.5 716 L1095 717.5 L1091 705 L1088 717 L1084 717.5 L1075 716 L1061 720 L1067.5 723 L1060 731.5 L1062.5 741.5 L1071 751.5 L1065 755 L1060 746.5 L1052.5 743 L1042.5 750 L1030 751.5 L1020 744 L1012.5 735 L1005 734 L992.5 738 L980 733 L965 733 L950 736.5 L937.5 744 L930 751.5 L915 761.5 L900 769 L890 779 L882.5 791.5 L880 804 L881 814 L885 826.5 L889 839 L887.5 841.5 L877.5 840 L867.5 838 L857.5 833 L846 828 L844 821.5 L837.5 809 L836 796.5 L827.5 786.5 L817.5 769 L810 754 L802.5 744 L792.5 734 L775 732.5 L765 737.5 L760 750 L752.5 756 L737.5 747.5 L725 735 L720 722.5 L712.5 710 L697.5 697.5 L685 685 L679 677.5 L642.5 677.5 L642.5 690 L577.5 690 L495 657.5 L497.5 651 L444 656 L440 647.5 L436 637.5 L427.5 627.5 L417.5 622.5 L412.5 615 L400 612.5 L387.5 605 L372.5 604 L366 600 L366 590 L360 577.5 L355 575 L345 560 L336 546 L339 537.5 L330 530 L324 520 L322.5 502.5 L312.5 499 L304 487.5 L296 475 L295 465 L287.5 450 L280 437.5 L284 422.5 L287.5 410 L286 397.5 L281 390 L280 380 L277.5 369 L281 357 L285 345 L287.5 325 L290 305 L291 287 L290 272 L287 261 L285.8 250 L282.4 241 L280 232 L274.6 225 L272 212.5 L275 211.5 L288 217.5 L299 219 L312 221 L313 230 L309 240 L312 250 L320 251 L327 242 L328 225 L325 208 L318 200 L316 196Z"/>
<path d="M1412 424 L1425 421 L1445 416 L1455 417.5 L1445 422.5 L1425 429 L1412.5 427Z"/>
<path d="M290 272 L310 276 L315.5 285 L322.5 290.5 L337.5 289 L352.5 290 L370 286 L390 281 L405 279 L445 278 M445 196 L445 278 M445 278 L447.5 275 L457.5 287.5 L454 300 L447.5 312.5 L441 325 L447.5 331 L445 345 L445 391 M467 196 L467 225 L475 239 L487.5 250 L497.5 261 L505 262.5 L502.5 275 L501 290 L507.5 292.5 L512.5 289 L520 300 L525 310 L532.5 317.5 L537.5 325 L550 321 L570 319.5 L572.5 316 L579 323 M579 307 L579 419 M579 307 L736 307 M281 391 L579 391 M379 391 L379 476 L500 586 M512 391 L512 556 L510 559 L497.5 557.5 L496 565 L499 582.5 L500 586 M500 586 L505 597.5 L510 607.5 L502.5 615 L499 625 L496 635 L500 645 L497.5 651 M512 531 L945 531 M579 419 L780 419 M624 419 L624 690 M736 196 L736 419 M736 282 L902 282 M780 419 L780 531 M780 447.5 L927.5 447.5 M736 363 L860 363 L871 370 L882.5 367.5 L895 369.5 L901 372.5 M889 196 L890 212.5 L895 230 L897.5 250 L900 265 L904 275 L902.5 285 L897.5 290.5 L905 297.5 L905.5 349 L902.5 351 L903 355 L905 362.5 L901 370 L905 377.5 L910 390 L912.5 398 L917.5 410 L919 425 L924 434 L929 445 L927.5 447.5 L937.5 452.5 L936 460 L944 470 L946 474 L946 545 L947.5 545 L949.5 626 M904 349.5 L1021 349.5 M922.5 431 L1012.5 431 L1016 434 L1017.5 439 M999 260 L997.5 277.5 L987.5 282.5 L985 290 L990 295 L987.5 307.5 L992.5 317.5 L1005 325 L1015 335 L1022.5 345 L1021 350 L1025 360 L1025 367.5 L1032.5 375 L1040 385 L1046 392.5 L1044 400 L1030 407.5 L1025 412.5 L1027.5 420 L1022.5 429 L1017.5 434 L1016 442.5 L1020 455 L1030 465 L1036 477.5 L1046 480 L1042.5 492.5 L1050 502.5 L1060 512.5 L1062.5 525 L1067.5 530 L1070 540 L1062.5 542.5 L1057.5 550 L1055 560 L1050 570 L1046 580 L1046 586 L1037.5 595 L1030 607.5 L1024 620 L1022.5 632.5 L1025 642.5 L1027.5 655 L1025 667.5 L1020 677.5 L1015 690 L1014 700 L1055 700 L1055 710 L1059 720 L1061 724 M1040 261 L1045 267.5 L1062.5 274 L1087.5 280 L1097.5 292.5 L1102.5 302.5 M1036 376.5 L1099 376.5 M1104.5 394 L1104.5 477.5 L1102.5 485 L1097.5 497.5 L1092.5 507.5 M1125 398 L1197.5 398 M1165.5 398 L1165.5 474 M1070 540 L1070 530 L1075 525 L1082.5 527.5 L1090 517.5 L1092.5 507.5 L1100 505 L1112.5 507.5 L1125 502.5 L1132.5 500 L1140 501 L1150 490 L1155 482.5 L1165 480 L1167.5 474 L1175 475 L1185 481 L1200 484 L1209 482.5 L1214 489.5 L1218 489.5 L1222.4 485 L1224.7 478 L1230 476 L1233.6 470.5 L1239 465 L1248 460 L1254 455 L1257 442.5 L1258 430 L1262 430 M1262 393 L1262 455 M1262 455 L1368 455 M1279 385 L1279 391 L1377.5 391 M1377.5 391 L1385 399 L1387.5 407.5 L1391 411 L1382.5 422.5 L1380 430 L1386 436 L1391 444 L1380 450 L1370 453 M1391 411 L1411 420 M1368.5 455 L1368.5 490.5 L1384 490.5 M1057.5 544 L1092.5 545 L1094 541 L1235 543.5 L1365 544 M947.5 545 L1046 545 L1047.5 552.5 L1042.5 559 L1055 559.5 M1046 587.5 L1177 587.5 M1091 587.5 L1085 655 L1084 717.5 M1149 587.5 L1160 655 L1162.5 665 L1160 680 L1161 697.5 L1164 707.5 L1225 711 L1226 717.5 L1229 705 L1240 707 M1160 699.5 L1102.5 699.5 L1104 710 L1104 714 M759 531 L759 545 L826 545 L826 600 L837.5 605 L850 610 L862.5 612.5 L872.5 619 L885 620 L895 619 L907.5 624 L920 619 L932.5 617.5 L942.5 622.5 L950 626 L959 626 L959 672.5 L962.5 680 L967.5 690 L970 700 L967.5 715 L965 725 L962.5 734 M758.5 545 L758.5 672 L679 672 L679 677.5 M959 642.5 L1024 642.5 M1214.6 489.5 L1215.7 498.5 L1220 507.5 L1225.8 516.4 L1232 521 L1237.5 526 M1232 521 L1215 533 L1201.5 542.6 M1237.5 526 L1250 522.5 L1265 519 L1267.3 509.7 L1274 500.7 L1278.5 491.7 L1281.8 487.3 L1289.7 489.5 L1293 482.8 L1298.6 479.4 L1304 474 L1307.6 468 L1310 461 L1321 471.6 M1284 455 L1284 470.4 L1293 463.7 L1301 459 L1310 461 L1320 458 L1323.3 462.6 L1321 471.6 L1326.7 469.3 L1334.5 475 L1342.4 478.3 L1338 485 L1336 490 M1235 543.7 L1235 548 L1226 553.8 L1212.8 559.4 L1203.8 567 L1190 571.7 L1181 579.6 L1177 587.5 L1198 589 M1198 594 L1208 586 L1221.7 581.8 L1248.6 583 L1256.5 592 L1280 593 L1304.7 617.7 M1177 587.5 L1198 589 L1198 594 L1206 601 L1212.8 614 L1226 627.8 L1237 641 L1244 654.7 L1248.6 668 L1251 672.6 M1421 307.5 L1420 337.5 L1424 350 L1425 370 L1424 372.5 L1420 390 L1417.5 410 L1415 419 M1462.5 307.5 L1460 320 L1452.5 327.5 L1447.5 345 L1442.5 360 L1440 371 M1425 372 L1471 372 L1477.5 368 M1474 299 L1475 350 L1479 362.5 L1479 367.5 M1420 391 L1465 391 L1470 404 M1459 391 L1459 408"/>
</g>
<path d="M316 199 L322 199 L325 205 L326 215 L329 222 L328 232 L328 245 L322 250 L314 252 L309 246 L308 236 L313 228 L316 218 L314 211 L308 211 L307 204 L312 202Z M286 249 L294 251 L295 256 L288 257Z M287 259 L293 261 L292 269 L288 270Z M321 497 L327 495 L331 505 L336 518 L330 520 L325 512Z M1210 782 L1217 783 L1219 791 L1214 793 L1210 788Z M1223 812 L1227 813 L1227 819 L1224 818Z M1247 858 L1253 858 L1252 865 L1248 864Z M1148 305 L1153 302 L1153 315 L1149 317Z M937 737 L943 735 L945 743 L939 745Z M876 797 L882 795 L882 805 L877 804Z M1492 408 L1498 408 L1499 413 L1493 414Z M1353 333 L1357 333 L1357 339 L1353 339Z M1100 308 L1104 306 L1099 318 L1096 319Z" fill="#000" stroke="#000" stroke-width="1.5" stroke-linejoin="round"/>
<g fill="none" stroke="#000" stroke-linecap="round" stroke-linejoin="round"><path d="M1363 460 L1358 470 L1357 482 L1360 495 L1362 508 L1360 520 L1362 532" stroke-width="5"/><path d="M1342 478 L1337 488 L1345 498 L1355 505" stroke-width="3.5"/><path d="M1345 514 L1356 520" stroke-width="3"/><path d="M1343 524 L1354 530" stroke-width="3"/><path d="M1371 455 L1377 466 L1382 476" stroke-width="3"/><path d="M1352 548 L1362 552 L1356 560 L1366 566 L1358 572 L1364 580" stroke-width="3"/><path d="M1340 592 L1350 585 L1358 588" stroke-width="3"/><path d="M1042 722 L1050 717 L1057 723 L1050 728 L1042 722" stroke-width="3"/><path d="M1482 409 L1487 412" stroke-width="3"/></g>
<text x="1608.3" y="422" class="lt">Relative pop. size</text>
<rect x="1609" y="435.00" width="25" height="25.6" fill="#1E73D2"/><text x="1645.5" y="455.00" class="ll">0-10</text><rect x="1609" y="460.45" width="25" height="25.6" fill="#4A8FA0"/><text x="1645.5" y="480.45" class="ll">10-20</text><rect x="1609" y="485.90" width="25" height="25.6" fill="#7BAA72"/><text x="1645.5" y="505.90" class="ll">20-30</text><rect x="1609" y="511.35" width="25" height="25.6" fill="#AFCB45"/><text x="1645.5" y="531.35" class="ll">30-40</text><rect x="1609" y="536.80" width="25" height="25.6" fill="#E4EE1A"/><text x="1645.5" y="556.80" class="ll">40-50</text><rect x="1609" y="562.25" width="25" height="25.6" fill="#FAE100"/><text x="1645.5" y="582.25" class="ll">50-60</text><rect x="1609" y="587.70" width="25" height="25.6" fill="#EFAA00"/><text x="1645.5" y="607.70" class="ll">60-70</text><rect x="1609" y="613.15" width="25" height="25.6" fill="#E57000"/><text x="1645.5" y="633.15" class="ll">70-80</text><rect x="1609" y="638.60" width="25" height="25.6" fill="#DC3500"/><text x="1645.5" y="658.60" class="ll">80-90</text>
</svg>
</body></html>
